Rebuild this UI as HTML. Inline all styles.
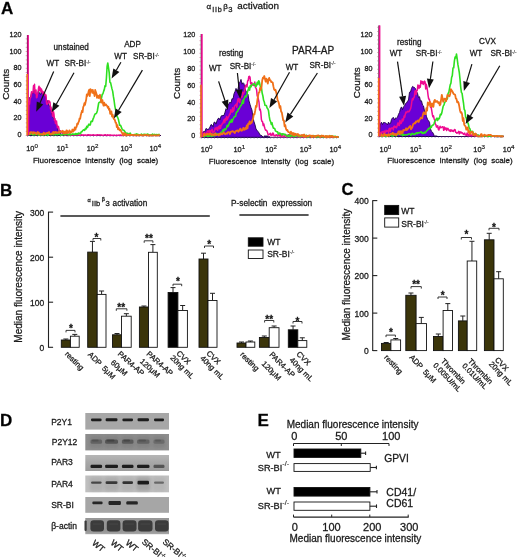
<!DOCTYPE html><html><head><meta charset="utf-8"><style>html,body{margin:0;padding:0;background:#fff;width:520px;height:558px;overflow:hidden}svg{display:block;will-change:transform;filter:blur(0.3px)}</style></head><body><svg width="520" height="558" viewBox="0 0 520 558" font-family='"Liberation Sans", sans-serif'><defs><filter id="b1" x="-20%" y="-50%" width="140%" height="200%"><feGaussianBlur stdDeviation="0.7"/></filter><filter id="b2" x="-20%" y="-50%" width="140%" height="200%"><feGaussianBlur stdDeviation="1.4"/></filter><linearGradient id="gPar3" x1="0" y1="0" x2="0" y2="1"><stop offset="0" stop-color="#b6b6b6"/><stop offset="0.45" stop-color="#a8a8a8"/><stop offset="1" stop-color="#9c9c9c"/></linearGradient><linearGradient id="gAct" x1="0" y1="0" x2="0" y2="1"><stop offset="0" stop-color="#979797"/><stop offset="0.8" stop-color="#939393"/><stop offset="1" stop-color="#a8a8a8"/></linearGradient></defs><style>text{stroke:#1a1a1a;stroke-width:0.28px}</style><rect width="520" height="558" fill="#fff"/><text x="1.0" y="14.0" font-size="17" font-weight="bold" fill="#000" >A</text>
<text font-size="8" fill="#1a1a1a"><tspan x="206.5" y="9.2">α</tspan><tspan x="212.3" y="11.9" font-size="7.2" letter-spacing="0.7">IIb</tspan><tspan x="223.2" y="8.9">β</tspan><tspan x="228.3" y="11.9" font-size="7.6">3</tspan><tspan x="237.3" y="9.1" font-size="9.9">activation</tspan></text>
<line x1="27.5" y1="35" x2="27.5" y2="135.5" stroke="#222" stroke-width="1.2"/>
<line x1="27.5" y1="135.5" x2="161" y2="135.5" stroke="#3a1050" stroke-width="1.0"/>
<polygon points="28.5,135.5 28.5,135.5 29.5,97.6 30.5,97.2 31.5,92.8 32.5,94.0 33.5,90.7 34.5,90.3 35.5,91.8 36.5,96.1 37.5,94.2 38.5,90.4 39.5,93.6 40.5,94.5 41.5,91.1 42.5,94.3 43.5,93.0 44.5,94.2 45.5,95.6 46.5,100.1 47.5,100.7 48.5,104.1 49.5,106.3 50.5,106.0 51.5,112.1 52.5,115.8 53.5,118.3 54.5,119.9 55.5,120.7 56.5,124.0 57.5,127.4 58.5,132.2 59.5,131.7 60.5,133.1 61.5,135.4 62.5,135.0 63.5,135.4 64,135.5" fill="#6a00d6" stroke="#1c0048" stroke-width="0.9"/>
<polyline points="28.5,133.8 29.0,102.5 29.5,104.1 30.0,98.7 30.5,97.6 31.0,96.8 31.5,91.7 32.0,93.1 32.5,92.7 33.0,92.6 33.5,85.7 34.0,86.9 34.5,84.3 35.0,92.8 35.5,93.7 36.0,89.9 36.5,97.8 37.0,97.2 37.5,93.9 38.0,93.0 38.5,88.3 39.0,86.3 39.5,90.3 40.0,87.4 40.5,89.9 41.0,91.7 41.5,89.0 42.0,92.2 42.5,91.2 43.0,94.1 43.5,91.9 44.0,93.8 44.5,93.2 45.0,95.5 45.5,95.1 46.0,95.0 46.5,102.9 47.0,104.3 47.5,103.7 48.0,103.3 48.5,100.7 49.0,100.7 49.5,102.5 50.0,102.0 50.5,108.9 51.0,107.2 51.5,112.2 52.0,110.1 52.5,115.9 53.0,116.5 53.5,111.7 54.0,114.5 54.5,120.5 55.0,118.8 55.5,123.6 56.0,121.4 56.5,121.0 57.0,125.7 57.5,127.8 58.0,126.3 58.5,126.7 59.0,129.2 59.5,132.9 60.0,132.6 60.5,130.7 61.0,132.0 61.5,131.7 62.0,131.8 62.5,134.8 63.0,132.9 63.5,134.5 64.0,134.3 64.5,133.5 65.0,135.3 65.5,133.4 66.0,135.1 66.5,133.5 67.0,134.5 67.5,133.9 68.0,134.1 68.5,135.5 69.0,135.5 69.5,134.4 70.0,135.2 70.5,134.8 71.0,134.9 71.5,135.2 72.0,135.1 72.5,134.8 73.0,135.3 73.5,134.8 74.0,134.9 74.5,135.2 75.0,134.9 75.5,134.9 76.0,134.8 76.5,134.8 77.0,135.1 77.5,134.9 78.0,135.1 78.5,135.0 79.0,135.0 79.5,135.3 80.0,135.0 80.5,135.1 81.0,135.3 81.5,134.8 82.0,134.8 82.5,135.3 83.0,135.2 83.5,134.9 84.0,134.9 84.5,135.2 85.0,135.3 85.5,134.9 86.0,135.3 86.5,135.3 87.0,135.1 87.5,135.0 88.0,134.8 88.5,134.8 89.0,135.3 89.5,134.9 90.0,135.2 90.5,134.9 91.0,135.3 91.5,135.1 92.0,134.9 92.5,134.9 93.0,135.2 93.5,134.8 94.0,134.9 94.5,135.1 95.0,135.3 95.5,135.2 96.0,135.0 96.5,135.3 97.0,134.9 97.5,134.8 98.0,135.0 98.5,135.1 99.0,134.8 99.5,134.9 100.0,135.0 100.5,135.1 101.0,134.9 101.5,135.0 102.0,135.3 102.5,135.4 103.0,135.2 103.5,135.2 104.0,135.2 104.5,134.9 105.0,134.8 105.5,134.8 106.0,135.4 106.5,135.2 107.0,135.4 107.5,134.8 108.0,135.2 108.5,135.1 109.0,135.3 109.5,135.0 110.0,135.4 110.5,134.9 111.0,135.2 111.5,135.3 112.0,135.4 112.5,135.3 113.0,135.3 113.5,135.3 114.0,135.4 114.5,135.1 115.0,135.3 115.5,135.4 116.0,135.4 116.5,135.1 117.0,135.3 117.5,135.4 118.0,135.2 118.5,135.2 119.0,135.1 119.5,135.2 120.0,135.2 120.5,134.9 121.0,135.3 121.5,135.5 122.0,135.4 122.5,135.3 123.0,135.1 123.5,135.3 124.0,135.2 124.5,135.1 125.0,135.4 125.5,134.9 126.0,135.3 126.5,134.9 127.0,135.3 127.5,135.2 128.0,135.0 128.5,135.3 129.0,135.2 129.5,135.3 130.0,135.5 130.5,135.1 131.0,134.9 131.5,135.1 132.0,135.3 132.5,135.0 133.0,135.0 133.5,135.5 134.0,135.3 134.5,135.2 135.0,135.5 135.5,135.1 136.0,135.3 136.5,135.0 137.0,135.2 137.5,135.4 138.0,135.5 138.5,135.5 139.0,135.2 139.5,135.3 140.0,135.1 140.5,135.0 141.0,135.2 141.5,135.4 142.0,135.4 142.5,135.4 143.0,135.5 143.5,135.1 144.0,135.0 144.5,135.2 145.0,135.1 145.5,135.1 146.0,135.2 146.5,135.3 147.0,135.3 147.5,135.1 148.0,135.5 148.5,135.5 149.0,135.2 149.5,135.0 150.0,135.0 150.5,135.5 151.0,135.0 151.5,135.4 152.0,135.3 152.5,135.2 153.0,135.5 153.5,135.0 154.0,135.1 154.5,135.3 155.0,135.0 155.5,135.5 156.0,135.1 156.5,135.1 157.0,135.0 157.5,135.4 158.0,135.3 158.5,135.4 159.0,135.4 159.5,135.5 160.0,135.5" fill="none" stroke="#ee0a90" stroke-width="1.5" stroke-linejoin="round"/>
<polyline points="28.0,134.5 28.7,134.8 29.4,134.8 30.1,133.9 30.8,133.7 31.5,134.3 32.2,134.1 32.9,135.0 33.6,134.8 34.3,134.7 35.0,134.6 35.7,134.8 36.4,133.9 37.1,134.4 37.8,134.0 38.5,135.2 39.2,133.8 39.9,135.0 40.6,133.8 41.3,134.8 42.0,134.2 42.7,134.3 43.4,135.1 44.1,133.7 44.8,133.8 45.5,135.2 46.2,134.5 46.9,133.8 47.6,135.3 48.3,135.2 49.0,133.9 49.7,134.4 50.4,133.9 51.1,134.2 51.8,134.7 52.5,134.0 53.2,134.8 53.9,133.8 54.6,134.0 55.3,135.0 56.0,134.3 56.7,134.4 57.4,134.7 58.1,134.5 58.8,134.3 59.5,133.7 60.2,134.9 60.9,135.3 61.6,135.3 62.3,134.8 63.0,134.3 63.7,134.3 64.4,134.8 65.1,134.8 65.8,133.9 66.5,134.1 67.2,134.3 67.9,134.5 68.6,135.0 69.3,134.5 70.0,133.7 70.7,135.0 71.4,134.3 72.1,134.4 72.8,133.9 73.5,134.2 74.2,134.0 74.9,134.7 75.6,133.5 76.3,134.2 77.0,133.5 77.7,134.4 78.4,133.1 79.1,133.4 79.8,133.4 80.5,133.6 81.2,131.7 81.9,131.8 82.6,130.6 83.3,130.1 84.0,129.8 84.7,130.3 85.4,128.4 86.1,129.0 86.8,126.2 87.5,127.5 88.2,125.4 88.9,124.2 89.6,125.1 90.3,124.9 91.0,121.5 91.7,121.1 92.4,121.4 93.1,118.8 93.8,117.3 94.5,115.2 95.2,113.8 95.9,113.7 96.6,113.0 97.3,111.0 98.0,107.0 98.7,103.0 99.4,102.2 100.1,102.3 100.8,100.7 101.5,98.0 102.2,94.4 102.9,93.9 103.6,91.4 104.3,89.6 105.0,85.7 105.7,86.3 106.4,78.3 107.1,66.5 107.8,63.0 108.5,67.6 109.2,72.6 109.9,82.3 110.6,82.7 111.3,85.9 112.0,88.9 112.7,91.4 113.4,96.4 114.1,100.5 114.8,105.8 115.5,109.3 116.2,110.8 116.9,116.3 117.6,117.2 118.3,119.0 119.0,122.1 119.7,125.2 120.4,125.2 121.1,126.5 121.8,128.4 122.5,129.6 123.2,130.2 123.9,130.2 124.6,131.2 125.3,132.5 126.0,133.0 126.7,133.2 127.4,133.3 128.1,133.5 128.8,134.2 129.5,134.0 130.2,133.1 130.9,134.4 131.6,134.8 132.3,134.7 133.0,134.9 133.7,135.0 134.4,134.5 135.1,135.0 135.8,134.3 136.5,133.9 137.2,134.3 137.9,134.3 138.6,135.3 139.3,134.9 140.0,134.7 140.7,134.8 141.4,134.0 142.1,134.7 142.8,135.0 143.5,134.5 144.2,134.3 144.9,134.6 145.6,134.4 146.3,135.0 147.0,134.2 147.7,134.1 148.4,134.5 149.1,135.1 149.8,135.2 150.5,135.1 151.2,135.5 151.9,134.6 152.6,134.1 153.3,134.8 154.0,134.8 154.7,134.4 155.4,135.2 156.1,134.7 156.8,134.5 157.5,134.7 158.2,135.5 158.9,134.3 159.6,134.8" fill="none" stroke="#2ee020" stroke-width="1.6" stroke-linejoin="round"/>
<polyline points="28.0,132.3 28.6,133.6 29.2,133.6 29.8,134.1 30.4,132.1 31.0,132.3 31.6,132.1 32.2,132.3 32.8,133.9 33.4,132.1 34.0,133.3 34.6,132.4 35.2,132.7 35.8,133.1 36.4,134.4 37.0,133.7 37.6,132.0 38.2,132.8 38.8,132.4 39.4,134.6 40.0,134.4 40.6,134.4 41.2,134.4 41.8,134.2 42.4,134.7 43.0,134.3 43.6,132.7 44.2,134.4 44.8,133.3 45.4,134.1 46.0,133.5 46.6,133.1 47.2,132.9 47.8,133.0 48.4,132.7 49.0,132.0 49.6,134.1 50.2,134.1 50.8,134.6 51.4,133.7 52.0,133.3 52.6,133.8 53.2,131.9 53.8,133.6 54.4,132.8 55.0,132.0 55.6,132.0 56.2,133.0 56.8,132.1 57.4,132.6 58.0,133.0 58.6,132.3 59.2,131.4 59.8,132.5 60.4,131.6 61.0,131.6 61.6,131.4 62.2,131.8 62.8,130.8 63.4,132.7 64.0,133.6 64.6,131.7 65.2,132.7 65.8,133.4 66.4,130.3 67.0,130.6 67.6,132.8 68.2,132.8 68.8,132.1 69.4,130.4 70.0,131.2 70.6,132.5 71.2,132.4 71.8,131.9 72.4,129.5 73.0,131.7 73.6,129.7 74.2,130.5 74.8,127.3 75.4,129.7 76.0,127.3 76.6,126.9 77.2,123.7 77.8,124.3 78.4,122.5 79.0,121.1 79.6,118.3 80.2,118.7 80.8,115.0 81.4,113.1 82.0,110.7 82.6,112.1 83.2,107.1 83.8,105.9 84.4,103.1 85.0,104.9 85.6,102.0 86.2,99.5 86.8,94.3 87.4,96.0 88.0,94.2 88.6,91.4 89.2,89.8 89.8,96.1 90.4,89.2 91.0,89.8 91.6,90.1 92.2,92.9 92.8,89.8 93.4,93.2 94.0,93.1 94.6,96.0 95.2,89.9 95.8,91.9 96.4,93.6 97.0,97.8 97.6,95.5 98.2,96.0 98.8,98.0 99.4,96.0 100.0,94.8 100.6,98.9 101.2,102.6 101.8,102.3 102.4,100.0 103.0,103.7 103.6,105.7 104.2,102.7 104.8,105.4 105.4,104.5 106.0,104.4 106.6,105.6 107.2,106.0 107.8,107.8 108.4,106.8 109.0,109.9 109.6,109.0 110.2,113.8 110.8,113.8 111.4,111.3 112.0,116.5 112.6,114.5 113.2,117.3 113.8,118.9 114.4,119.2 115.0,120.5 115.6,122.7 116.2,122.8 116.8,127.2 117.4,125.2 118.0,129.3 118.6,127.8 119.2,129.1 119.8,130.3 120.4,129.8 121.0,130.8 121.6,132.2 122.2,133.0 122.8,134.9 123.4,135.4 124.0,133.0 124.6,134.5 125.2,133.6 125.8,135.5 126.4,134.4 127.0,135.5 127.6,135.0 128.2,134.8 128.8,134.7 129.4,134.9 130.0,135.3 130.6,134.8 131.2,135.1 131.8,135.0 132.4,135.0 133.0,135.3 133.6,134.9 134.2,135.2 134.8,135.2 135.4,135.4 136.0,135.1 136.6,135.4 137.2,135.1 137.8,135.2 138.4,135.2 139.0,135.4 139.6,135.4 140.2,135.0 140.8,135.0 141.4,135.2 142.0,135.4 142.6,135.3 143.2,135.1 143.8,135.5 144.4,135.1 145.0,135.0 145.6,135.0 146.2,135.0 146.8,135.4 147.4,135.1 148.0,135.4 148.6,135.5 149.2,135.5 149.8,135.5 150.4,135.3 151.0,135.4 151.6,135.5 152.2,135.5 152.8,135.3 153.4,135.5 154.0,135.2 154.6,135.3 155.2,135.5 155.8,135.4 156.4,135.3 157.0,135.5 157.6,135.4 158.2,135.2 158.8,135.2 159.4,135.3 160.0,135.4" fill="none" stroke="#f07018" stroke-width="1.8" stroke-linejoin="round"/>
<line x1="28.1" y1="135.5" x2="28.1" y2="35" stroke="#ee0a90" stroke-width="1.6"/>
<line x1="27.2" y1="135.5" x2="27.2" y2="74" stroke="#f07018" stroke-width="1.6"/>
<line x1="25.7" y1="135.5" x2="27.0" y2="135.5" stroke="#c04070" stroke-width="0.5"/>
<line x1="25.7" y1="131.3" x2="27.0" y2="131.3" stroke="#c04070" stroke-width="0.5"/>
<line x1="25.7" y1="127.1" x2="27.0" y2="127.1" stroke="#c04070" stroke-width="0.5"/>
<line x1="25.7" y1="122.9" x2="27.0" y2="122.9" stroke="#c04070" stroke-width="0.5"/>
<line x1="25.7" y1="118.7" x2="27.0" y2="118.7" stroke="#c04070" stroke-width="0.5"/>
<line x1="25.7" y1="114.5" x2="27.0" y2="114.5" stroke="#c04070" stroke-width="0.5"/>
<line x1="25.7" y1="110.3" x2="27.0" y2="110.3" stroke="#c04070" stroke-width="0.5"/>
<line x1="25.7" y1="106.1" x2="27.0" y2="106.1" stroke="#c04070" stroke-width="0.5"/>
<line x1="25.7" y1="101.9" x2="27.0" y2="101.9" stroke="#c04070" stroke-width="0.5"/>
<line x1="25.7" y1="97.7" x2="27.0" y2="97.7" stroke="#c04070" stroke-width="0.5"/>
<line x1="25.7" y1="93.5" x2="27.0" y2="93.5" stroke="#c04070" stroke-width="0.5"/>
<line x1="25.7" y1="89.3" x2="27.0" y2="89.3" stroke="#c04070" stroke-width="0.5"/>
<line x1="25.7" y1="85.1" x2="27.0" y2="85.1" stroke="#c04070" stroke-width="0.5"/>
<line x1="25.7" y1="80.9" x2="27.0" y2="80.9" stroke="#c04070" stroke-width="0.5"/>
<line x1="25.7" y1="76.7" x2="27.0" y2="76.7" stroke="#c04070" stroke-width="0.5"/>
<line x1="25.7" y1="72.5" x2="27.0" y2="72.5" stroke="#c04070" stroke-width="0.5"/>
<line x1="25.7" y1="68.3" x2="27.0" y2="68.3" stroke="#c04070" stroke-width="0.5"/>
<line x1="25.7" y1="64.1" x2="27.0" y2="64.1" stroke="#c04070" stroke-width="0.5"/>
<line x1="25.7" y1="59.9" x2="27.0" y2="59.9" stroke="#c04070" stroke-width="0.5"/>
<line x1="25.7" y1="55.7" x2="27.0" y2="55.7" stroke="#c04070" stroke-width="0.5"/>
<line x1="25.7" y1="51.5" x2="27.0" y2="51.5" stroke="#c04070" stroke-width="0.5"/>
<line x1="25.7" y1="47.3" x2="27.0" y2="47.3" stroke="#c04070" stroke-width="0.5"/>
<line x1="25.7" y1="43.1" x2="27.0" y2="43.1" stroke="#c04070" stroke-width="0.5"/>
<line x1="25.7" y1="38.9" x2="27.0" y2="38.9" stroke="#c04070" stroke-width="0.5"/>
<line x1="27.5" y1="135.5" x2="27.5" y2="137.0" stroke="#6060a0" stroke-width="0.5"/>
<line x1="30.8" y1="135.5" x2="30.8" y2="137.0" stroke="#6060a0" stroke-width="0.5"/>
<line x1="34.1" y1="135.5" x2="34.1" y2="137.0" stroke="#6060a0" stroke-width="0.5"/>
<line x1="37.4" y1="135.5" x2="37.4" y2="137.0" stroke="#6060a0" stroke-width="0.5"/>
<line x1="40.7" y1="135.5" x2="40.7" y2="137.0" stroke="#6060a0" stroke-width="0.5"/>
<line x1="44.0" y1="135.5" x2="44.0" y2="137.0" stroke="#6060a0" stroke-width="0.5"/>
<line x1="47.3" y1="135.5" x2="47.3" y2="137.0" stroke="#6060a0" stroke-width="0.5"/>
<line x1="50.6" y1="135.5" x2="50.6" y2="137.0" stroke="#6060a0" stroke-width="0.5"/>
<line x1="53.9" y1="135.5" x2="53.9" y2="137.0" stroke="#6060a0" stroke-width="0.5"/>
<line x1="57.2" y1="135.5" x2="57.2" y2="137.0" stroke="#6060a0" stroke-width="0.5"/>
<line x1="60.5" y1="135.5" x2="60.5" y2="137.0" stroke="#6060a0" stroke-width="0.5"/>
<line x1="63.8" y1="135.5" x2="63.8" y2="137.0" stroke="#6060a0" stroke-width="0.5"/>
<line x1="67.1" y1="135.5" x2="67.1" y2="137.0" stroke="#6060a0" stroke-width="0.5"/>
<line x1="70.4" y1="135.5" x2="70.4" y2="137.0" stroke="#6060a0" stroke-width="0.5"/>
<line x1="73.7" y1="135.5" x2="73.7" y2="137.0" stroke="#6060a0" stroke-width="0.5"/>
<line x1="77.0" y1="135.5" x2="77.0" y2="137.0" stroke="#6060a0" stroke-width="0.5"/>
<line x1="80.3" y1="135.5" x2="80.3" y2="137.0" stroke="#6060a0" stroke-width="0.5"/>
<line x1="83.6" y1="135.5" x2="83.6" y2="137.0" stroke="#6060a0" stroke-width="0.5"/>
<line x1="86.9" y1="135.5" x2="86.9" y2="137.0" stroke="#6060a0" stroke-width="0.5"/>
<line x1="90.2" y1="135.5" x2="90.2" y2="137.0" stroke="#6060a0" stroke-width="0.5"/>
<line x1="93.5" y1="135.5" x2="93.5" y2="137.0" stroke="#6060a0" stroke-width="0.5"/>
<line x1="96.8" y1="135.5" x2="96.8" y2="137.0" stroke="#6060a0" stroke-width="0.5"/>
<line x1="100.1" y1="135.5" x2="100.1" y2="137.0" stroke="#6060a0" stroke-width="0.5"/>
<line x1="103.4" y1="135.5" x2="103.4" y2="137.0" stroke="#6060a0" stroke-width="0.5"/>
<line x1="106.7" y1="135.5" x2="106.7" y2="137.0" stroke="#6060a0" stroke-width="0.5"/>
<line x1="110.0" y1="135.5" x2="110.0" y2="137.0" stroke="#6060a0" stroke-width="0.5"/>
<line x1="113.3" y1="135.5" x2="113.3" y2="137.0" stroke="#6060a0" stroke-width="0.5"/>
<line x1="116.6" y1="135.5" x2="116.6" y2="137.0" stroke="#6060a0" stroke-width="0.5"/>
<line x1="119.9" y1="135.5" x2="119.9" y2="137.0" stroke="#6060a0" stroke-width="0.5"/>
<line x1="123.2" y1="135.5" x2="123.2" y2="137.0" stroke="#6060a0" stroke-width="0.5"/>
<line x1="126.5" y1="135.5" x2="126.5" y2="137.0" stroke="#6060a0" stroke-width="0.5"/>
<line x1="129.8" y1="135.5" x2="129.8" y2="137.0" stroke="#6060a0" stroke-width="0.5"/>
<line x1="133.1" y1="135.5" x2="133.1" y2="137.0" stroke="#6060a0" stroke-width="0.5"/>
<line x1="136.4" y1="135.5" x2="136.4" y2="137.0" stroke="#6060a0" stroke-width="0.5"/>
<line x1="139.7" y1="135.5" x2="139.7" y2="137.0" stroke="#6060a0" stroke-width="0.5"/>
<line x1="143.0" y1="135.5" x2="143.0" y2="137.0" stroke="#6060a0" stroke-width="0.5"/>
<line x1="146.3" y1="135.5" x2="146.3" y2="137.0" stroke="#6060a0" stroke-width="0.5"/>
<line x1="149.6" y1="135.5" x2="149.6" y2="137.0" stroke="#6060a0" stroke-width="0.5"/>
<line x1="152.9" y1="135.5" x2="152.9" y2="137.0" stroke="#6060a0" stroke-width="0.5"/>
<line x1="156.2" y1="135.5" x2="156.2" y2="137.0" stroke="#6060a0" stroke-width="0.5"/>
<line x1="159.5" y1="135.5" x2="159.5" y2="137.0" stroke="#6060a0" stroke-width="0.5"/>
<line x1="201.3" y1="34" x2="201.3" y2="137.3" stroke="#222" stroke-width="1.2"/>
<line x1="201.3" y1="137.3" x2="338.5" y2="137.3" stroke="#3a1050" stroke-width="1.0"/>
<polygon points="202,137.3 202.0,137.2 203.0,132.0 204.0,131.6 205.0,131.5 206.0,128.4 207.0,129.2 208.0,129.6 209.0,128.8 210.0,127.0 211.0,124.6 212.0,125.0 213.0,126.8 214.0,122.3 215.0,122.2 216.0,124.1 217.0,120.8 218.0,118.6 219.0,118.1 220.0,120.0 221.0,116.2 222.0,115.6 223.0,115.7 224.0,115.3 225.0,112.3 226.0,108.7 227.0,109.7 228.0,105.0 229.0,103.6 230.0,102.1 231.0,103.2 232.0,98.6 233.0,99.2 234.0,93.8 235.0,91.6 236.0,88.4 237.0,90.3 238.0,89.3 239.0,83.2 240.0,82.1 241.0,79.4 242.0,84.2 243.0,82.7 244.0,83.7 245.0,88.9 246.0,91.1 247.0,92.7 248.0,94.3 249.0,100.9 250.0,104.3 251.0,107.6 252.0,110.2 253.0,118.2 254.0,121.7 255.0,124.8 256.0,129.0 257.0,130.3 258.0,131.5 259.0,132.9 260.0,135.0 261.0,135.4 262.0,135.8 263.0,137.3 264.0,137.1 265.0,135.5 266.0,137.3 267.0,135.5 268.0,137.1 269.0,136.8 270.0,137.1 270,137.3" fill="#6a00d6" stroke="#1c0048" stroke-width="0.9"/>
<polyline points="202.0,132.9 202.6,134.5 203.2,134.1 203.8,133.5 204.4,132.4 205.0,134.3 205.6,134.2 206.2,133.0 206.8,132.8 207.4,131.7 208.0,130.7 208.6,131.9 209.2,132.5 209.8,130.5 210.4,132.9 211.0,130.6 211.6,130.4 212.2,129.4 212.8,132.8 213.4,131.6 214.0,131.9 214.6,130.6 215.2,128.0 215.8,128.8 216.4,129.1 217.0,127.2 217.6,130.3 218.2,127.5 218.8,126.2 219.4,128.7 220.0,125.3 220.6,128.2 221.2,125.3 221.8,125.0 222.4,123.2 223.0,123.2 223.6,121.0 224.2,119.4 224.8,122.7 225.4,118.5 226.0,120.4 226.6,116.5 227.2,119.7 227.8,118.4 228.4,116.7 229.0,116.0 229.6,114.1 230.2,114.2 230.8,109.8 231.4,111.0 232.0,112.3 232.6,107.7 233.2,111.4 233.8,110.4 234.4,106.6 235.0,105.5 235.6,105.2 236.2,104.0 236.8,107.2 237.4,102.4 238.0,99.0 238.6,98.5 239.2,101.8 239.8,102.7 240.4,98.3 241.0,97.3 241.6,96.7 242.2,97.0 242.8,92.3 243.4,94.0 244.0,92.5 244.6,91.4 245.2,86.8 245.8,85.3 246.4,84.9 247.0,87.0 247.6,81.0 248.2,80.7 248.8,76.7 249.4,76.3 250.0,77.1 250.6,83.4 251.2,84.3 251.8,82.7 252.4,84.9 253.0,84.4 253.6,85.4 254.2,85.3 254.8,82.0 255.4,87.3 256.0,88.2 256.6,89.8 257.2,95.9 257.8,96.6 258.4,99.4 259.0,102.2 259.6,109.9 260.2,109.1 260.8,112.2 261.4,119.6 262.0,121.4 262.6,121.9 263.2,125.6 263.8,123.9 264.4,126.8 265.0,128.8 265.6,130.3 266.2,130.2 266.8,130.7 267.4,132.1 268.0,134.4 268.6,134.9 269.2,134.4 269.8,133.8 270.4,133.3 271.0,135.6 271.6,134.3 272.2,135.1 272.8,132.9 273.4,133.6 274.0,135.7 274.6,135.6 275.2,136.0 275.8,135.2 276.4,134.7 277.0,135.3 277.6,136.2 278.2,134.7 278.8,135.4 279.4,134.8 280.0,136.3 280.6,134.1 281.2,136.1 281.8,136.9 282.4,134.3 283.0,135.9 283.6,136.1 284.2,136.7 284.8,136.0 285.4,135.1 286.0,135.5 286.6,137.1 287.2,137.0 287.8,134.9 288.4,134.8 289.0,134.8 289.6,134.7 290.2,135.9 290.8,135.1 291.4,137.1 292.0,136.5 292.6,135.1 293.2,136.3 293.8,135.7 294.4,136.2 295.0,135.5 295.6,135.4 296.2,135.5 296.8,136.0 297.4,136.9 298.0,136.5 298.6,135.3 299.2,137.0 299.8,137.3 300.4,137.2 301.0,137.2 301.6,135.3 302.2,136.4 302.8,135.5 303.4,137.2 304.0,135.7 304.6,137.1 305.2,136.0 305.8,137.1 306.4,136.1 307.0,135.5 307.6,136.3 308.2,136.1 308.8,137.3 309.4,136.1 310.0,136.6 310.6,136.8 311.2,137.3 311.8,135.7 312.4,136.9 313.0,136.7 313.6,137.2 314.2,137.3 314.8,136.2 315.4,137.2 316.0,136.8 316.6,136.9 317.2,135.7 317.8,137.3 318.4,137.3 319.0,136.4 319.6,136.3 320.2,137.3 320.8,135.8 321.4,135.8 322.0,135.8 322.6,137.3 323.2,137.3 323.8,136.8 324.4,136.9 325.0,136.5 325.6,136.9 326.2,136.8 326.8,136.9 327.4,136.8 328.0,136.8 328.6,136.7 329.2,136.6 329.8,136.8 330.4,136.7 331.0,137.0 331.6,137.1 332.2,137.0 332.8,136.9 333.4,136.8 334.0,136.9 334.6,136.9 335.2,137.0 335.8,137.2 336.4,136.7 337.0,137.0 337.6,137.0 338.2,137.1 338.8,137.2" fill="none" stroke="#ee0a90" stroke-width="1.5" stroke-linejoin="round"/>
<polyline points="202.0,136.9 202.7,135.2 203.4,135.0 204.1,136.8 204.8,135.2 205.5,135.0 206.2,136.0 206.9,135.3 207.6,136.4 208.3,135.0 209.0,136.4 209.7,135.0 210.4,135.6 211.1,136.2 211.8,135.6 212.5,136.1 213.2,135.6 213.9,134.1 214.6,135.8 215.3,135.1 216.0,134.2 216.7,133.6 217.4,134.9 218.1,134.0 218.8,134.5 219.5,133.9 220.2,134.0 220.9,132.5 221.6,132.2 222.3,131.5 223.0,129.9 223.7,131.3 224.4,128.9 225.1,129.7 225.8,129.4 226.5,127.7 227.2,125.2 227.9,126.6 228.6,125.2 229.3,122.8 230.0,121.4 230.7,122.3 231.4,119.6 232.1,122.0 232.8,119.5 233.5,118.3 234.2,116.7 234.9,116.5 235.6,116.4 236.3,112.7 237.0,111.7 237.7,111.4 238.4,108.9 239.1,108.9 239.8,107.4 240.5,105.7 241.2,105.5 241.9,103.6 242.6,100.2 243.3,103.3 244.0,98.8 244.7,97.6 245.4,95.9 246.1,96.9 246.8,95.4 247.5,91.6 248.2,89.9 248.9,87.2 249.6,90.1 250.3,85.6 251.0,86.9 251.7,85.3 252.4,84.6 253.1,84.3 253.8,83.9 254.5,83.4 255.2,86.0 255.9,86.6 256.6,85.1 257.3,82.3 258.0,84.4 258.7,80.7 259.4,82.1 260.1,85.5 260.8,87.6 261.5,88.1 262.2,93.3 262.9,96.0 263.6,100.3 264.3,102.0 265.0,105.3 265.7,105.5 266.4,105.6 267.1,108.0 267.8,108.8 268.5,110.6 269.2,116.2 269.9,120.1 270.6,121.6 271.3,124.4 272.0,122.8 272.7,126.1 273.4,128.2 274.1,128.3 274.8,128.7 275.5,131.1 276.2,131.3 276.9,131.8 277.6,131.7 278.3,134.3 279.0,133.1 279.7,133.0 280.4,133.4 281.1,133.7 281.8,135.2 282.5,133.8 283.2,134.1 283.9,133.9 284.6,134.9 285.3,134.4 286.0,134.9 286.7,135.8 287.4,136.4 288.1,136.3 288.8,134.8 289.5,135.7 290.2,136.7 290.9,135.1 291.6,135.5 292.3,136.0 293.0,135.8 293.7,136.5 294.4,136.5 295.1,136.0 295.8,135.6 296.5,135.6 297.2,135.7 297.9,135.3 298.6,136.5 299.3,135.5 300.0,136.9 300.7,136.4 301.4,135.4 302.1,136.2 302.8,136.4 303.5,135.4 304.2,136.2 304.9,135.4 305.6,136.7 306.3,135.3 307.0,136.5 307.7,137.2 308.4,136.9 309.1,135.8 309.8,136.4 310.5,135.7 311.2,136.1 311.9,137.0 312.6,136.9 313.3,135.5 314.0,136.2 314.7,136.7 315.4,135.8 316.1,137.0 316.8,137.1 317.5,136.5 318.2,136.2 318.9,137.1 319.6,136.5 320.3,135.9 321.0,136.1 321.7,135.9 322.4,137.1 323.1,136.6 323.8,136.9 324.5,137.1 325.2,137.3 325.9,136.0 326.6,136.4 327.3,137.3 328.0,137.1 328.7,136.4 329.4,136.9 330.1,136.1 330.8,136.1 331.5,135.9 332.2,136.5 332.9,136.2 333.6,136.7 334.3,137.3 335.0,136.1 335.7,136.8 336.4,137.3 337.1,136.9 337.8,136.8 338.5,137.2" fill="none" stroke="#2ee020" stroke-width="1.6" stroke-linejoin="round"/>
<polyline points="202.0,136.2 202.7,136.2 203.4,136.0 204.1,133.8 204.8,135.1 205.5,134.7 206.2,134.9 206.9,133.8 207.6,133.9 208.3,134.6 209.0,133.9 209.7,134.6 210.4,133.3 211.1,133.5 211.8,135.2 212.5,134.4 213.2,134.6 213.9,135.2 214.6,134.1 215.3,133.2 216.0,135.2 216.7,134.6 217.4,134.7 218.1,134.5 218.8,135.5 219.5,133.6 220.2,134.8 220.9,133.5 221.6,134.1 222.3,134.3 223.0,133.1 223.7,132.4 224.4,133.5 225.1,134.2 225.8,133.7 226.5,133.2 227.2,133.7 227.9,132.2 228.6,132.1 229.3,132.5 230.0,134.0 230.7,131.9 231.4,131.6 232.1,131.5 232.8,131.1 233.5,131.7 234.2,132.4 234.9,133.0 235.6,131.2 236.3,131.1 237.0,130.6 237.7,130.4 238.4,131.8 239.1,130.7 239.8,129.4 240.5,128.6 241.2,130.8 241.9,130.2 242.6,130.4 243.3,127.8 244.0,128.6 244.7,129.7 245.4,128.0 246.1,129.0 246.8,125.5 247.5,128.4 248.2,123.7 248.9,124.1 249.6,121.4 250.3,123.9 251.0,122.3 251.7,122.7 252.4,120.1 253.1,118.6 253.8,114.2 254.5,114.3 255.2,110.7 255.9,105.9 256.6,106.8 257.3,100.3 258.0,96.3 258.7,92.7 259.4,92.4 260.1,87.9 260.8,89.8 261.5,87.3 262.2,80.5 262.9,77.7 263.6,78.3 264.3,76.0 265.0,79.1 265.7,81.7 266.4,78.7 267.1,80.4 267.8,83.6 268.5,79.6 269.2,77.9 269.9,80.3 270.6,80.4 271.3,82.2 272.0,82.2 272.7,82.5 273.4,86.4 274.1,89.4 274.8,90.3 275.5,89.8 276.2,92.4 276.9,95.6 277.6,100.3 278.3,101.4 279.0,103.8 279.7,107.9 280.4,106.2 281.1,111.6 281.8,112.4 282.5,116.3 283.2,120.4 283.9,120.4 284.6,126.4 285.3,125.1 286.0,128.9 286.7,130.4 287.4,130.0 288.1,131.8 288.8,132.2 289.5,132.5 290.2,133.6 290.9,131.7 291.6,133.1 292.3,134.6 293.0,132.9 293.7,135.3 294.4,133.5 295.1,135.0 295.8,133.8 296.5,134.7 297.2,134.8 297.9,133.9 298.6,135.7 299.3,135.1 300.0,135.7 300.7,135.4 301.4,135.5 302.1,135.5 302.8,134.9 303.5,136.5 304.2,134.5 304.9,136.6 305.6,136.6 306.3,135.7 307.0,136.5 307.7,136.3 308.4,136.1 309.1,135.4 309.8,135.5 310.5,135.6 311.2,135.6 311.9,137.2 312.6,135.7 313.3,135.8 314.0,135.9 314.7,136.9 315.4,136.1 316.1,136.3 316.8,135.7 317.5,135.7 318.2,135.3 318.9,135.6 319.6,135.8 320.3,137.2 321.0,136.4 321.7,135.5 322.4,136.3 323.1,135.6 323.8,136.6 324.5,136.4 325.2,137.3 325.9,136.0 326.6,137.3 327.3,136.0 328.0,137.3 328.7,136.9 329.4,135.7 330.1,137.3 330.8,136.2 331.5,136.4 332.2,136.0 332.9,137.3 333.6,136.6 334.3,137.0 335.0,136.8 335.7,137.0 336.4,136.8 337.1,136.7 337.8,137.2 338.5,137.1" fill="none" stroke="#f07018" stroke-width="1.8" stroke-linejoin="round"/>
<line x1="201.9" y1="137.3" x2="201.9" y2="34" stroke="#ee0a90" stroke-width="1.6"/>
<line x1="201.0" y1="137.3" x2="201.0" y2="84.7" stroke="#f07018" stroke-width="1.6"/>
<line x1="199.5" y1="137.3" x2="200.8" y2="137.3" stroke="#c04070" stroke-width="0.5"/>
<line x1="199.5" y1="133.1" x2="200.8" y2="133.1" stroke="#c04070" stroke-width="0.5"/>
<line x1="199.5" y1="128.9" x2="200.8" y2="128.9" stroke="#c04070" stroke-width="0.5"/>
<line x1="199.5" y1="124.7" x2="200.8" y2="124.7" stroke="#c04070" stroke-width="0.5"/>
<line x1="199.5" y1="120.5" x2="200.8" y2="120.5" stroke="#c04070" stroke-width="0.5"/>
<line x1="199.5" y1="116.3" x2="200.8" y2="116.3" stroke="#c04070" stroke-width="0.5"/>
<line x1="199.5" y1="112.1" x2="200.8" y2="112.1" stroke="#c04070" stroke-width="0.5"/>
<line x1="199.5" y1="107.9" x2="200.8" y2="107.9" stroke="#c04070" stroke-width="0.5"/>
<line x1="199.5" y1="103.7" x2="200.8" y2="103.7" stroke="#c04070" stroke-width="0.5"/>
<line x1="199.5" y1="99.5" x2="200.8" y2="99.5" stroke="#c04070" stroke-width="0.5"/>
<line x1="199.5" y1="95.3" x2="200.8" y2="95.3" stroke="#c04070" stroke-width="0.5"/>
<line x1="199.5" y1="91.1" x2="200.8" y2="91.1" stroke="#c04070" stroke-width="0.5"/>
<line x1="199.5" y1="86.9" x2="200.8" y2="86.9" stroke="#c04070" stroke-width="0.5"/>
<line x1="199.5" y1="82.7" x2="200.8" y2="82.7" stroke="#c04070" stroke-width="0.5"/>
<line x1="199.5" y1="78.5" x2="200.8" y2="78.5" stroke="#c04070" stroke-width="0.5"/>
<line x1="199.5" y1="74.3" x2="200.8" y2="74.3" stroke="#c04070" stroke-width="0.5"/>
<line x1="199.5" y1="70.1" x2="200.8" y2="70.1" stroke="#c04070" stroke-width="0.5"/>
<line x1="199.5" y1="65.9" x2="200.8" y2="65.9" stroke="#c04070" stroke-width="0.5"/>
<line x1="199.5" y1="61.7" x2="200.8" y2="61.7" stroke="#c04070" stroke-width="0.5"/>
<line x1="199.5" y1="57.5" x2="200.8" y2="57.5" stroke="#c04070" stroke-width="0.5"/>
<line x1="199.5" y1="53.3" x2="200.8" y2="53.3" stroke="#c04070" stroke-width="0.5"/>
<line x1="199.5" y1="49.1" x2="200.8" y2="49.1" stroke="#c04070" stroke-width="0.5"/>
<line x1="199.5" y1="44.9" x2="200.8" y2="44.9" stroke="#c04070" stroke-width="0.5"/>
<line x1="199.5" y1="40.7" x2="200.8" y2="40.7" stroke="#c04070" stroke-width="0.5"/>
<line x1="199.5" y1="36.5" x2="200.8" y2="36.5" stroke="#c04070" stroke-width="0.5"/>
<line x1="201.3" y1="137.3" x2="201.3" y2="138.8" stroke="#6060a0" stroke-width="0.5"/>
<line x1="204.6" y1="137.3" x2="204.6" y2="138.8" stroke="#6060a0" stroke-width="0.5"/>
<line x1="207.9" y1="137.3" x2="207.9" y2="138.8" stroke="#6060a0" stroke-width="0.5"/>
<line x1="211.2" y1="137.3" x2="211.2" y2="138.8" stroke="#6060a0" stroke-width="0.5"/>
<line x1="214.5" y1="137.3" x2="214.5" y2="138.8" stroke="#6060a0" stroke-width="0.5"/>
<line x1="217.8" y1="137.3" x2="217.8" y2="138.8" stroke="#6060a0" stroke-width="0.5"/>
<line x1="221.1" y1="137.3" x2="221.1" y2="138.8" stroke="#6060a0" stroke-width="0.5"/>
<line x1="224.4" y1="137.3" x2="224.4" y2="138.8" stroke="#6060a0" stroke-width="0.5"/>
<line x1="227.7" y1="137.3" x2="227.7" y2="138.8" stroke="#6060a0" stroke-width="0.5"/>
<line x1="231.0" y1="137.3" x2="231.0" y2="138.8" stroke="#6060a0" stroke-width="0.5"/>
<line x1="234.3" y1="137.3" x2="234.3" y2="138.8" stroke="#6060a0" stroke-width="0.5"/>
<line x1="237.6" y1="137.3" x2="237.6" y2="138.8" stroke="#6060a0" stroke-width="0.5"/>
<line x1="240.9" y1="137.3" x2="240.9" y2="138.8" stroke="#6060a0" stroke-width="0.5"/>
<line x1="244.2" y1="137.3" x2="244.2" y2="138.8" stroke="#6060a0" stroke-width="0.5"/>
<line x1="247.5" y1="137.3" x2="247.5" y2="138.8" stroke="#6060a0" stroke-width="0.5"/>
<line x1="250.8" y1="137.3" x2="250.8" y2="138.8" stroke="#6060a0" stroke-width="0.5"/>
<line x1="254.1" y1="137.3" x2="254.1" y2="138.8" stroke="#6060a0" stroke-width="0.5"/>
<line x1="257.4" y1="137.3" x2="257.4" y2="138.8" stroke="#6060a0" stroke-width="0.5"/>
<line x1="260.7" y1="137.3" x2="260.7" y2="138.8" stroke="#6060a0" stroke-width="0.5"/>
<line x1="264.0" y1="137.3" x2="264.0" y2="138.8" stroke="#6060a0" stroke-width="0.5"/>
<line x1="267.3" y1="137.3" x2="267.3" y2="138.8" stroke="#6060a0" stroke-width="0.5"/>
<line x1="270.6" y1="137.3" x2="270.6" y2="138.8" stroke="#6060a0" stroke-width="0.5"/>
<line x1="273.9" y1="137.3" x2="273.9" y2="138.8" stroke="#6060a0" stroke-width="0.5"/>
<line x1="277.2" y1="137.3" x2="277.2" y2="138.8" stroke="#6060a0" stroke-width="0.5"/>
<line x1="280.5" y1="137.3" x2="280.5" y2="138.8" stroke="#6060a0" stroke-width="0.5"/>
<line x1="283.8" y1="137.3" x2="283.8" y2="138.8" stroke="#6060a0" stroke-width="0.5"/>
<line x1="287.1" y1="137.3" x2="287.1" y2="138.8" stroke="#6060a0" stroke-width="0.5"/>
<line x1="290.4" y1="137.3" x2="290.4" y2="138.8" stroke="#6060a0" stroke-width="0.5"/>
<line x1="293.7" y1="137.3" x2="293.7" y2="138.8" stroke="#6060a0" stroke-width="0.5"/>
<line x1="297.0" y1="137.3" x2="297.0" y2="138.8" stroke="#6060a0" stroke-width="0.5"/>
<line x1="300.3" y1="137.3" x2="300.3" y2="138.8" stroke="#6060a0" stroke-width="0.5"/>
<line x1="303.6" y1="137.3" x2="303.6" y2="138.8" stroke="#6060a0" stroke-width="0.5"/>
<line x1="306.9" y1="137.3" x2="306.9" y2="138.8" stroke="#6060a0" stroke-width="0.5"/>
<line x1="310.2" y1="137.3" x2="310.2" y2="138.8" stroke="#6060a0" stroke-width="0.5"/>
<line x1="313.5" y1="137.3" x2="313.5" y2="138.8" stroke="#6060a0" stroke-width="0.5"/>
<line x1="316.8" y1="137.3" x2="316.8" y2="138.8" stroke="#6060a0" stroke-width="0.5"/>
<line x1="320.1" y1="137.3" x2="320.1" y2="138.8" stroke="#6060a0" stroke-width="0.5"/>
<line x1="323.4" y1="137.3" x2="323.4" y2="138.8" stroke="#6060a0" stroke-width="0.5"/>
<line x1="326.7" y1="137.3" x2="326.7" y2="138.8" stroke="#6060a0" stroke-width="0.5"/>
<line x1="330.0" y1="137.3" x2="330.0" y2="138.8" stroke="#6060a0" stroke-width="0.5"/>
<line x1="333.3" y1="137.3" x2="333.3" y2="138.8" stroke="#6060a0" stroke-width="0.5"/>
<line x1="336.6" y1="137.3" x2="336.6" y2="138.8" stroke="#6060a0" stroke-width="0.5"/>
<line x1="379" y1="25.4" x2="379" y2="136.5" stroke="#222" stroke-width="1.2"/>
<line x1="379" y1="136.5" x2="504" y2="136.5" stroke="#3a1050" stroke-width="1.0"/>
<polygon points="379.5,136.5 379.5,136.5 380.5,123.7 381.5,122.2 382.5,124.6 383.5,122.5 384.5,122.5 385.5,122.9 386.5,123.6 387.5,124.8 388.5,122.1 389.5,124.0 390.5,123.5 391.5,119.4 392.5,117.9 393.5,117.5 394.5,120.0 395.5,117.9 396.5,118.2 397.5,117.2 398.5,114.3 399.5,112.4 400.5,108.5 401.5,106.9 402.5,109.6 403.5,106.9 404.5,105.9 405.5,103.6 406.5,103.0 407.5,101.3 408.5,100.0 409.5,92.2 410.5,92.0 411.5,88.4 412.5,86.4 413.5,87.1 414.5,87.5 415.5,88.7 416.5,91.5 417.5,93.3 418.5,97.5 419.5,96.7 420.5,101.2 421.5,100.8 422.5,105.0 423.5,105.9 424.5,110.9 425.5,112.6 426.5,116.7 427.5,119.3 428.5,120.7 429.5,122.2 430.5,129.0 431.5,131.4 432.5,132.2 433.5,134.0 434.5,136.4 435.5,135.9 436.5,136.0 437.5,136.4 438.5,136.5 439.5,136.5 440,136.5" fill="#6a00d6" stroke="#1c0048" stroke-width="0.9"/>
<polyline points="379.5,132.5 380.1,132.6 380.7,133.2 381.3,133.9 381.9,131.9 382.5,131.6 383.1,131.8 383.7,133.4 384.3,131.0 384.9,132.9 385.5,132.4 386.1,130.3 386.7,131.4 387.3,130.9 387.9,130.5 388.5,132.5 389.1,128.8 389.7,128.3 390.3,131.5 390.9,129.1 391.5,127.9 392.1,128.1 392.7,127.8 393.3,129.9 393.9,126.4 394.5,126.1 395.1,127.3 395.7,126.6 396.3,127.9 396.9,126.9 397.5,124.2 398.1,122.9 398.7,125.4 399.3,125.6 399.9,120.5 400.5,123.4 401.1,123.5 401.7,121.9 402.3,118.9 402.9,121.0 403.5,119.7 404.1,115.9 404.7,117.3 405.3,114.1 405.9,112.1 406.5,112.8 407.1,111.8 407.7,111.2 408.3,111.7 408.9,111.7 409.5,111.0 410.1,109.7 410.7,108.4 411.3,105.6 411.9,101.0 412.5,98.5 413.1,99.9 413.7,97.8 414.3,97.1 414.9,91.4 415.5,90.5 416.1,94.4 416.7,90.9 417.3,90.3 417.9,84.9 418.5,85.9 419.1,88.4 419.7,85.6 420.3,87.1 420.9,80.8 421.5,81.8 422.1,83.5 422.7,81.5 423.3,84.4 423.9,83.3 424.5,81.1 425.1,81.9 425.7,89.0 426.3,84.3 426.9,87.2 427.5,90.6 428.1,95.6 428.7,99.0 429.3,99.2 429.9,102.4 430.5,107.2 431.1,107.0 431.7,110.4 432.3,114.2 432.9,116.7 433.5,115.9 434.1,118.7 434.7,120.1 435.3,124.0 435.9,124.8 436.5,127.1 437.1,127.1 437.7,125.8 438.3,129.0 438.9,130.0 439.5,127.5 440.1,126.2 440.7,127.8 441.3,127.5 441.9,127.2 442.5,126.7 443.1,127.2 443.7,130.3 444.3,127.1 444.9,129.4 445.5,127.9 446.1,128.0 446.7,130.6 447.3,128.7 447.9,128.3 448.5,129.5 449.1,130.6 449.7,130.0 450.3,131.4 450.9,129.8 451.5,130.4 452.1,131.2 452.7,130.4 453.3,131.5 453.9,130.7 454.5,129.5 455.1,129.7 455.7,132.3 456.3,132.4 456.9,133.3 457.5,132.7 458.1,132.5 458.7,131.3 459.3,133.9 459.9,131.7 460.5,132.9 461.1,132.1 461.7,133.0 462.3,132.8 462.9,133.3 463.5,134.4 464.1,133.9 464.7,133.1 465.3,134.9 465.9,134.9 466.5,135.3 467.1,133.0 467.7,134.9 468.3,135.8 468.9,134.1 469.5,134.1 470.1,135.9 470.7,134.7 471.3,134.9 471.9,136.0 472.5,134.9 473.1,134.5 473.7,134.6 474.3,135.0 474.9,136.0 475.5,135.2 476.1,136.3 476.7,134.6 477.3,135.1 477.9,136.1 478.5,135.8 479.1,135.9 479.7,136.5 480.3,135.9 480.9,135.8 481.5,135.8 482.1,136.0 482.7,135.9 483.3,136.1 483.9,135.8 484.5,135.8 485.1,136.0 485.7,136.3 486.3,136.0 486.9,136.4 487.5,136.2 488.1,136.1 488.7,136.3 489.3,136.0 489.9,136.3 490.5,136.4 491.1,136.3 491.7,136.1 492.3,136.0 492.9,136.3 493.5,136.1 494.1,136.2 494.7,136.3 495.3,136.5 495.9,136.4 496.5,136.4 497.1,136.5 497.7,136.3 498.3,136.3 498.9,136.5 499.5,136.4 500.1,136.3 500.7,136.4 501.3,136.5 501.9,136.3 502.5,136.5 503.1,136.2 503.7,136.5" fill="none" stroke="#ee0a90" stroke-width="1.5" stroke-linejoin="round"/>
<polyline points="379.5,135.7 380.2,135.5 380.9,135.6 381.6,136.5 382.3,135.9 383.0,136.2 383.7,135.2 384.4,135.8 385.1,136.3 385.8,135.7 386.5,136.4 387.2,136.2 387.9,135.4 388.6,134.8 389.3,135.9 390.0,134.9 390.7,134.7 391.4,135.8 392.1,136.0 392.8,135.9 393.5,136.1 394.2,134.8 394.9,134.5 395.6,134.6 396.3,136.0 397.0,134.5 397.7,134.5 398.4,134.3 399.1,134.3 399.8,134.2 400.5,134.7 401.2,134.3 401.9,134.5 402.6,135.6 403.3,134.2 404.0,135.3 404.7,135.1 405.4,134.8 406.1,134.7 406.8,135.0 407.5,134.7 408.2,134.0 408.9,134.1 409.6,133.9 410.3,134.1 411.0,135.2 411.7,134.1 412.4,133.4 413.1,134.1 413.8,134.7 414.5,133.9 415.2,134.4 415.9,133.0 416.6,132.8 417.3,133.9 418.0,132.5 418.7,132.9 419.4,132.9 420.1,132.3 420.8,131.9 421.5,131.7 422.2,133.5 422.9,132.8 423.6,133.3 424.3,132.1 425.0,133.0 425.7,132.3 426.4,131.2 427.1,130.4 427.8,129.8 428.5,128.5 429.2,128.3 429.9,128.7 430.6,126.5 431.3,127.4 432.0,125.6 432.7,125.1 433.4,124.9 434.1,123.5 434.8,121.1 435.5,120.6 436.2,119.0 436.9,118.2 437.6,120.4 438.3,118.4 439.0,118.8 439.7,117.3 440.4,114.3 441.1,114.8 441.8,112.9 442.5,109.3 443.2,106.1 443.9,105.1 444.6,102.7 445.3,101.6 446.0,98.6 446.7,99.4 447.4,98.7 448.1,93.3 448.8,92.6 449.5,88.6 450.2,84.9 450.9,83.3 451.6,77.5 452.3,75.6 453.0,68.0 453.7,67.8 454.4,60.8 455.1,57.0 455.8,57.8 456.5,54.0 457.2,58.9 457.9,64.4 458.6,68.3 459.3,72.7 460.0,79.2 460.7,87.1 461.4,92.4 462.1,93.4 462.8,98.6 463.5,103.0 464.2,109.4 464.9,110.5 465.6,116.8 466.3,118.0 467.0,122.2 467.7,122.5 468.4,124.1 469.1,127.9 469.8,128.5 470.5,130.8 471.2,131.4 471.9,132.0 472.6,131.3 473.3,133.3 474.0,134.9 474.7,134.2 475.4,133.7 476.1,134.1 476.8,135.8 477.5,136.0 478.2,135.0 478.9,135.3 479.6,136.2 480.3,136.0 481.0,135.8 481.7,136.3 482.4,136.1 483.1,136.0 483.8,135.8 484.5,136.1 485.2,136.3 485.9,135.9 486.6,135.9 487.3,136.3 488.0,136.4 488.7,136.1 489.4,136.2 490.1,136.3 490.8,136.2 491.5,136.0 492.2,136.1 492.9,136.1 493.6,136.1 494.3,136.1 495.0,136.2 495.7,136.2 496.4,136.5 497.1,136.2 497.8,136.5 498.5,136.5 499.2,136.3 499.9,136.2 500.6,136.5 501.3,136.4 502.0,136.5 502.7,136.2 503.4,136.5" fill="none" stroke="#2ee020" stroke-width="1.6" stroke-linejoin="round"/>
<polyline points="379.5,135.2 380.2,135.4 380.9,135.9 381.6,134.2 382.3,135.3 383.0,136.0 383.7,136.0 384.4,133.7 385.1,135.1 385.8,135.0 386.5,134.6 387.2,136.0 387.9,134.5 388.6,134.2 389.3,135.8 390.0,134.8 390.7,133.6 391.4,133.6 392.1,134.2 392.8,132.7 393.5,134.5 394.2,134.8 394.9,133.8 395.6,135.0 396.3,135.1 397.0,133.6 397.7,133.8 398.4,131.6 399.1,131.2 399.8,134.3 400.5,131.5 401.2,131.1 401.9,133.4 402.6,132.7 403.3,130.0 404.0,130.6 404.7,130.1 405.4,129.8 406.1,128.3 406.8,130.1 407.5,128.7 408.2,128.7 408.9,127.4 409.6,126.6 410.3,125.9 411.0,129.3 411.7,128.3 412.4,126.9 413.1,124.3 413.8,123.8 414.5,123.0 415.2,123.4 415.9,121.5 416.6,122.0 417.3,121.0 418.0,120.4 418.7,122.0 419.4,120.0 420.1,119.2 420.8,117.7 421.5,117.9 422.2,118.4 422.9,114.7 423.6,112.4 424.3,114.0 425.0,112.5 425.7,114.1 426.4,108.1 427.1,110.6 427.8,102.4 428.5,104.8 429.2,103.4 429.9,101.8 430.6,106.5 431.3,106.1 432.0,103.3 432.7,106.6 433.4,106.8 434.1,101.2 434.8,99.9 435.5,101.9 436.2,101.9 436.9,100.9 437.6,101.6 438.3,103.1 439.0,102.3 439.7,105.3 440.4,104.5 441.1,99.7 441.8,94.8 442.5,97.9 443.2,101.8 443.9,99.3 444.6,98.6 445.3,99.0 446.0,101.2 446.7,98.9 447.4,94.8 448.1,95.8 448.8,95.8 449.5,96.3 450.2,94.0 450.9,89.2 451.6,90.4 452.3,91.1 453.0,92.8 453.7,94.0 454.4,94.3 455.1,94.7 455.8,98.4 456.5,98.9 457.2,102.4 457.9,101.7 458.6,103.0 459.3,106.4 460.0,110.5 460.7,112.6 461.4,112.3 462.1,114.4 462.8,121.0 463.5,118.1 464.2,124.7 464.9,125.6 465.6,126.4 466.3,129.7 467.0,129.3 467.7,127.4 468.4,132.3 469.1,131.0 469.8,133.8 470.5,133.9 471.2,131.8 471.9,131.9 472.6,132.2 473.3,135.1 474.0,135.4 474.7,133.8 475.4,133.5 476.1,134.4 476.8,135.9 477.5,135.8 478.2,136.3 478.9,136.5 479.6,136.2 480.3,136.5 481.0,134.2 481.7,134.2 482.4,136.5 483.1,136.0 483.8,135.2 484.5,134.7 485.2,135.3 485.9,135.3 486.6,135.8 487.3,135.7 488.0,135.0 488.7,134.8 489.4,135.1 490.1,135.0 490.8,134.9 491.5,135.8 492.2,135.8 492.9,136.2 493.6,136.1 494.3,136.1 495.0,136.2 495.7,136.0 496.4,135.9 497.1,136.0 497.8,136.1 498.5,136.2 499.2,136.2 499.9,136.2 500.6,136.5 501.3,136.1 502.0,136.4 502.7,136.4 503.4,136.3" fill="none" stroke="#f07018" stroke-width="1.8" stroke-linejoin="round"/>
<line x1="379.6" y1="136.5" x2="379.6" y2="25.4" stroke="#ee0a90" stroke-width="1.6"/>
<line x1="378.7" y1="136.5" x2="378.7" y2="78" stroke="#f07018" stroke-width="1.6"/>
<line x1="377.2" y1="136.5" x2="378.5" y2="136.5" stroke="#c04070" stroke-width="0.5"/>
<line x1="377.2" y1="132.3" x2="378.5" y2="132.3" stroke="#c04070" stroke-width="0.5"/>
<line x1="377.2" y1="128.1" x2="378.5" y2="128.1" stroke="#c04070" stroke-width="0.5"/>
<line x1="377.2" y1="123.9" x2="378.5" y2="123.9" stroke="#c04070" stroke-width="0.5"/>
<line x1="377.2" y1="119.7" x2="378.5" y2="119.7" stroke="#c04070" stroke-width="0.5"/>
<line x1="377.2" y1="115.5" x2="378.5" y2="115.5" stroke="#c04070" stroke-width="0.5"/>
<line x1="377.2" y1="111.3" x2="378.5" y2="111.3" stroke="#c04070" stroke-width="0.5"/>
<line x1="377.2" y1="107.1" x2="378.5" y2="107.1" stroke="#c04070" stroke-width="0.5"/>
<line x1="377.2" y1="102.9" x2="378.5" y2="102.9" stroke="#c04070" stroke-width="0.5"/>
<line x1="377.2" y1="98.7" x2="378.5" y2="98.7" stroke="#c04070" stroke-width="0.5"/>
<line x1="377.2" y1="94.5" x2="378.5" y2="94.5" stroke="#c04070" stroke-width="0.5"/>
<line x1="377.2" y1="90.3" x2="378.5" y2="90.3" stroke="#c04070" stroke-width="0.5"/>
<line x1="377.2" y1="86.1" x2="378.5" y2="86.1" stroke="#c04070" stroke-width="0.5"/>
<line x1="377.2" y1="81.9" x2="378.5" y2="81.9" stroke="#c04070" stroke-width="0.5"/>
<line x1="377.2" y1="77.7" x2="378.5" y2="77.7" stroke="#c04070" stroke-width="0.5"/>
<line x1="377.2" y1="73.5" x2="378.5" y2="73.5" stroke="#c04070" stroke-width="0.5"/>
<line x1="377.2" y1="69.3" x2="378.5" y2="69.3" stroke="#c04070" stroke-width="0.5"/>
<line x1="377.2" y1="65.1" x2="378.5" y2="65.1" stroke="#c04070" stroke-width="0.5"/>
<line x1="377.2" y1="60.9" x2="378.5" y2="60.9" stroke="#c04070" stroke-width="0.5"/>
<line x1="377.2" y1="56.7" x2="378.5" y2="56.7" stroke="#c04070" stroke-width="0.5"/>
<line x1="377.2" y1="52.5" x2="378.5" y2="52.5" stroke="#c04070" stroke-width="0.5"/>
<line x1="377.2" y1="48.3" x2="378.5" y2="48.3" stroke="#c04070" stroke-width="0.5"/>
<line x1="377.2" y1="44.1" x2="378.5" y2="44.1" stroke="#c04070" stroke-width="0.5"/>
<line x1="377.2" y1="39.9" x2="378.5" y2="39.9" stroke="#c04070" stroke-width="0.5"/>
<line x1="377.2" y1="35.7" x2="378.5" y2="35.7" stroke="#c04070" stroke-width="0.5"/>
<line x1="377.2" y1="31.5" x2="378.5" y2="31.5" stroke="#c04070" stroke-width="0.5"/>
<line x1="377.2" y1="27.3" x2="378.5" y2="27.3" stroke="#c04070" stroke-width="0.5"/>
<line x1="379" y1="136.5" x2="379" y2="138.0" stroke="#6060a0" stroke-width="0.5"/>
<line x1="382.3" y1="136.5" x2="382.3" y2="138.0" stroke="#6060a0" stroke-width="0.5"/>
<line x1="385.6" y1="136.5" x2="385.6" y2="138.0" stroke="#6060a0" stroke-width="0.5"/>
<line x1="388.9" y1="136.5" x2="388.9" y2="138.0" stroke="#6060a0" stroke-width="0.5"/>
<line x1="392.2" y1="136.5" x2="392.2" y2="138.0" stroke="#6060a0" stroke-width="0.5"/>
<line x1="395.5" y1="136.5" x2="395.5" y2="138.0" stroke="#6060a0" stroke-width="0.5"/>
<line x1="398.8" y1="136.5" x2="398.8" y2="138.0" stroke="#6060a0" stroke-width="0.5"/>
<line x1="402.1" y1="136.5" x2="402.1" y2="138.0" stroke="#6060a0" stroke-width="0.5"/>
<line x1="405.4" y1="136.5" x2="405.4" y2="138.0" stroke="#6060a0" stroke-width="0.5"/>
<line x1="408.7" y1="136.5" x2="408.7" y2="138.0" stroke="#6060a0" stroke-width="0.5"/>
<line x1="412.0" y1="136.5" x2="412.0" y2="138.0" stroke="#6060a0" stroke-width="0.5"/>
<line x1="415.3" y1="136.5" x2="415.3" y2="138.0" stroke="#6060a0" stroke-width="0.5"/>
<line x1="418.6" y1="136.5" x2="418.6" y2="138.0" stroke="#6060a0" stroke-width="0.5"/>
<line x1="421.9" y1="136.5" x2="421.9" y2="138.0" stroke="#6060a0" stroke-width="0.5"/>
<line x1="425.2" y1="136.5" x2="425.2" y2="138.0" stroke="#6060a0" stroke-width="0.5"/>
<line x1="428.5" y1="136.5" x2="428.5" y2="138.0" stroke="#6060a0" stroke-width="0.5"/>
<line x1="431.8" y1="136.5" x2="431.8" y2="138.0" stroke="#6060a0" stroke-width="0.5"/>
<line x1="435.1" y1="136.5" x2="435.1" y2="138.0" stroke="#6060a0" stroke-width="0.5"/>
<line x1="438.4" y1="136.5" x2="438.4" y2="138.0" stroke="#6060a0" stroke-width="0.5"/>
<line x1="441.7" y1="136.5" x2="441.7" y2="138.0" stroke="#6060a0" stroke-width="0.5"/>
<line x1="445.0" y1="136.5" x2="445.0" y2="138.0" stroke="#6060a0" stroke-width="0.5"/>
<line x1="448.3" y1="136.5" x2="448.3" y2="138.0" stroke="#6060a0" stroke-width="0.5"/>
<line x1="451.6" y1="136.5" x2="451.6" y2="138.0" stroke="#6060a0" stroke-width="0.5"/>
<line x1="454.9" y1="136.5" x2="454.9" y2="138.0" stroke="#6060a0" stroke-width="0.5"/>
<line x1="458.2" y1="136.5" x2="458.2" y2="138.0" stroke="#6060a0" stroke-width="0.5"/>
<line x1="461.5" y1="136.5" x2="461.5" y2="138.0" stroke="#6060a0" stroke-width="0.5"/>
<line x1="464.8" y1="136.5" x2="464.8" y2="138.0" stroke="#6060a0" stroke-width="0.5"/>
<line x1="468.1" y1="136.5" x2="468.1" y2="138.0" stroke="#6060a0" stroke-width="0.5"/>
<line x1="471.4" y1="136.5" x2="471.4" y2="138.0" stroke="#6060a0" stroke-width="0.5"/>
<line x1="474.7" y1="136.5" x2="474.7" y2="138.0" stroke="#6060a0" stroke-width="0.5"/>
<line x1="478.0" y1="136.5" x2="478.0" y2="138.0" stroke="#6060a0" stroke-width="0.5"/>
<line x1="481.3" y1="136.5" x2="481.3" y2="138.0" stroke="#6060a0" stroke-width="0.5"/>
<line x1="484.6" y1="136.5" x2="484.6" y2="138.0" stroke="#6060a0" stroke-width="0.5"/>
<line x1="487.9" y1="136.5" x2="487.9" y2="138.0" stroke="#6060a0" stroke-width="0.5"/>
<line x1="491.2" y1="136.5" x2="491.2" y2="138.0" stroke="#6060a0" stroke-width="0.5"/>
<line x1="494.5" y1="136.5" x2="494.5" y2="138.0" stroke="#6060a0" stroke-width="0.5"/>
<line x1="497.8" y1="136.5" x2="497.8" y2="138.0" stroke="#6060a0" stroke-width="0.5"/>
<line x1="501.1" y1="136.5" x2="501.1" y2="138.0" stroke="#6060a0" stroke-width="0.5"/>
<text x="21.6" y="136.8" font-size="7.2" text-anchor="end" fill="#1a1a1a" >0</text>
<text x="21.6" y="120.1" font-size="7.2" text-anchor="end" fill="#1a1a1a" >20</text>
<text x="21.6" y="103.5" font-size="7.2" text-anchor="end" fill="#1a1a1a" >40</text>
<text x="21.6" y="86.8" font-size="7.2" text-anchor="end" fill="#1a1a1a" >60</text>
<text x="21.6" y="70.1" font-size="7.2" text-anchor="end" fill="#1a1a1a" >80</text>
<text x="21.6" y="53.5" font-size="7.2" text-anchor="end" fill="#1a1a1a" >100</text>
<text x="21.6" y="36.8" font-size="7.2" text-anchor="end" fill="#1a1a1a" >120</text>
<text x="195.2" y="138.3" font-size="7.2" text-anchor="end" fill="#1a1a1a" >0</text>
<text x="195.2" y="121.4" font-size="7.2" text-anchor="end" fill="#1a1a1a" >20</text>
<text x="195.2" y="104.5" font-size="7.2" text-anchor="end" fill="#1a1a1a" >40</text>
<text x="195.2" y="87.6" font-size="7.2" text-anchor="end" fill="#1a1a1a" >60</text>
<text x="195.2" y="70.7" font-size="7.2" text-anchor="end" fill="#1a1a1a" >80</text>
<text x="195.2" y="53.8" font-size="7.2" text-anchor="end" fill="#1a1a1a" >100</text>
<text x="195.2" y="36.9" font-size="7.2" text-anchor="end" fill="#1a1a1a" >120</text>
<text x="372.6" y="137.3" font-size="7.2" text-anchor="end" fill="#1a1a1a" >0</text>
<text x="372.6" y="120.6" font-size="7.2" text-anchor="end" fill="#1a1a1a" >20</text>
<text x="372.6" y="103.9" font-size="7.2" text-anchor="end" fill="#1a1a1a" >40</text>
<text x="372.6" y="87.2" font-size="7.2" text-anchor="end" fill="#1a1a1a" >60</text>
<text x="372.6" y="70.5" font-size="7.2" text-anchor="end" fill="#1a1a1a" >80</text>
<text x="372.6" y="53.8" font-size="7.2" text-anchor="end" fill="#1a1a1a" >100</text>
<text x="372.6" y="37.1" font-size="7.2" text-anchor="end" fill="#1a1a1a" >120</text>
<text x="0" y="0" font-size="9.8" fill="#1a1a1a" text-anchor="middle" transform="translate(9.0,84.3) rotate(-90)">Counts</text>
<text x="0" y="0" font-size="9.8" fill="#1a1a1a" text-anchor="middle" transform="translate(179.6,83.4) rotate(-90)">Counts</text>
<text x="0" y="0" font-size="9.8" fill="#1a1a1a" text-anchor="middle" transform="translate(359.7,82.8) rotate(-90)">Counts</text>
<text x="26.2" y="151.0" font-size="7.4" fill="#1a1a1a">10<tspan font-size="6.2" dy="-3.2" style="stroke-width:0.2px">0</tspan></text>
<text x="56.7" y="151.0" font-size="7.4" fill="#1a1a1a">10<tspan font-size="6.2" dy="-3.2" style="stroke-width:0.2px">1</tspan></text>
<text x="86.7" y="151.0" font-size="7.4" fill="#1a1a1a">10<tspan font-size="6.2" dy="-3.2" style="stroke-width:0.2px">2</tspan></text>
<text x="120.4" y="151.0" font-size="7.4" fill="#1a1a1a">10<tspan font-size="6.2" dy="-3.2" style="stroke-width:0.2px">3</tspan></text>
<text x="149.5" y="151.0" font-size="7.4" fill="#1a1a1a">10<tspan font-size="6.2" dy="-3.2" style="stroke-width:0.2px">4</tspan></text>
<text x="200.8" y="152.4" font-size="7.4" fill="#1a1a1a">10<tspan font-size="6.2" dy="-3.2" style="stroke-width:0.2px">0</tspan></text>
<text x="233.5" y="152.4" font-size="7.4" fill="#1a1a1a">10<tspan font-size="6.2" dy="-3.2" style="stroke-width:0.2px">1</tspan></text>
<text x="265.2" y="152.4" font-size="7.4" fill="#1a1a1a">10<tspan font-size="6.2" dy="-3.2" style="stroke-width:0.2px">2</tspan></text>
<text x="299.8" y="152.4" font-size="7.4" fill="#1a1a1a">10<tspan font-size="6.2" dy="-3.2" style="stroke-width:0.2px">3</tspan></text>
<text x="329.5" y="152.4" font-size="7.4" fill="#1a1a1a">10<tspan font-size="6.2" dy="-3.2" style="stroke-width:0.2px">4</tspan></text>
<text x="379.6" y="152.4" font-size="7.4" fill="#1a1a1a">10<tspan font-size="6.2" dy="-3.2" style="stroke-width:0.2px">0</tspan></text>
<text x="409.9" y="152.4" font-size="7.4" fill="#1a1a1a">10<tspan font-size="6.2" dy="-3.2" style="stroke-width:0.2px">1</tspan></text>
<text x="440.2" y="152.4" font-size="7.4" fill="#1a1a1a">10<tspan font-size="6.2" dy="-3.2" style="stroke-width:0.2px">2</tspan></text>
<text x="473.3" y="152.4" font-size="7.4" fill="#1a1a1a">10<tspan font-size="6.2" dy="-3.2" style="stroke-width:0.2px">3</tspan></text>
<text x="502.8" y="152.4" font-size="7.4" fill="#1a1a1a">10<tspan font-size="6.2" dy="-3.2" style="stroke-width:0.2px">4</tspan></text>
<text x="32.9" y="163" font-size="8" fill="#1a1a1a" xml:space="preserve">Fluorescence  intensity  (log  scale)</text>
<text x="208.8" y="164" font-size="8" fill="#1a1a1a" xml:space="preserve">Fluorescence  intensity  (log  scale)</text>
<text x="387.3" y="162.5" font-size="8" fill="#1a1a1a" xml:space="preserve">Fluorescence  intensity  (log  scale)</text>
<text x="53.6" y="49.6" font-size="8.15" fill="#1a1a1a" >unstained</text>
<text x="46.6" y="65.8" font-size="8.15" fill="#1a1a1a" >WT</text>
<text x="64.5" y="66.3" font-size="8.15" fill="#1a1a1a">SR-BI<tspan font-size="4.7" dy="-2.7" style="stroke-width:0.1px">-/-</tspan></text>
<text x="124.2" y="46.8" font-size="8.15" fill="#1a1a1a" >ADP</text>
<text x="114.3" y="59.2" font-size="8.15" fill="#1a1a1a" >WT</text>
<text x="133.0" y="59.2" font-size="8.15" fill="#1a1a1a">SR-BI<tspan font-size="4.7" dy="-2.7" style="stroke-width:0.1px">-/-</tspan></text>
<line x1="53.7" y1="71.5" x2="40.0" y2="103.0" stroke="#111" stroke-width="1.2"/>
<polygon points="36.2,111.7 36.8,101.6 43.2,104.4" fill="#111"/>
<line x1="74" y1="72.7" x2="56.4" y2="104.0" stroke="#111" stroke-width="1.2"/>
<polygon points="51.7,112.3 53.3,102.3 59.4,105.7" fill="#111"/>
<line x1="120.9" y1="62.3" x2="116.3" y2="70.3" stroke="#111" stroke-width="1.2"/>
<polygon points="111.6,78.5 113.3,68.5 119.4,72.0" fill="#111"/>
<line x1="142.4" y1="70.1" x2="118.6" y2="110.2" stroke="#111" stroke-width="1.2"/>
<polygon points="113.8,118.4 115.6,108.4 121.7,112.0" fill="#111"/>
<text x="219.0" y="55.6" font-size="8.15" fill="#1a1a1a" >resting</text>
<text x="208.9" y="71" font-size="8.15" fill="#1a1a1a" >WT</text>
<text x="229.7" y="69" font-size="8.15" fill="#1a1a1a">SR-BI<tspan font-size="4.7" dy="-2.7" style="stroke-width:0.1px">-/-</tspan></text>
<text x="292.1" y="53.7" font-size="10" fill="#1a1a1a" >PAR4-AP</text>
<text x="285.7" y="70.4" font-size="8.15" fill="#1a1a1a" >WT</text>
<text x="309.4" y="67.7" font-size="8.15" fill="#1a1a1a">SR-BI<tspan font-size="4.7" dy="-2.7" style="stroke-width:0.1px">-/-</tspan></text>
<line x1="218.6" y1="81.4" x2="225.0" y2="100.7" stroke="#111" stroke-width="1.2"/>
<polygon points="228,109.7 221.7,101.8 228.3,99.6" fill="#111"/>
<line x1="237.4" y1="73" x2="239.2" y2="89.6" stroke="#111" stroke-width="1.2"/>
<polygon points="240.3,99 235.8,89.9 242.7,89.2" fill="#111"/>
<line x1="289.5" y1="72.2" x2="274.1" y2="99.7" stroke="#111" stroke-width="1.2"/>
<polygon points="269.4,108 271.0,98.0 277.1,101.4" fill="#111"/>
<line x1="317.4" y1="73" x2="290.4" y2="114.4" stroke="#111" stroke-width="1.2"/>
<polygon points="285.2,122.4 287.5,112.5 293.3,116.4" fill="#111"/>
<text x="397.1" y="44.8" font-size="8.15" fill="#1a1a1a" >resting</text>
<text x="389.7" y="56.3" font-size="8.15" fill="#1a1a1a" >WT</text>
<text x="415.8" y="56.3" font-size="8.15" fill="#1a1a1a">SR-BI<tspan font-size="4.7" dy="-2.7" style="stroke-width:0.1px">-/-</tspan></text>
<text x="479.1" y="43.7" font-size="8.15" fill="#1a1a1a" >CVX</text>
<text x="469.7" y="56.3" font-size="8.15" fill="#1a1a1a" >WT</text>
<text x="490.4" y="56.3" font-size="8.15" fill="#1a1a1a">SR-BI<tspan font-size="4.7" dy="-2.7" style="stroke-width:0.1px">-/-</tspan></text>
<line x1="397.5" y1="61.7" x2="402.6" y2="96.3" stroke="#111" stroke-width="1.2"/>
<polygon points="404,105.7 399.1,96.8 406.1,95.8" fill="#111"/>
<line x1="432.9" y1="61.5" x2="430.4" y2="78.9" stroke="#111" stroke-width="1.2"/>
<polygon points="429,88.3 426.9,78.4 433.8,79.4" fill="#111"/>
<line x1="471.9" y1="64.2" x2="466.6" y2="81.9" stroke="#111" stroke-width="1.2"/>
<polygon points="463.9,91 463.3,80.9 470.0,82.9" fill="#111"/>
<line x1="499.8" y1="65.8" x2="470.4" y2="115.9" stroke="#111" stroke-width="1.2"/>
<polygon points="465.6,124.1 467.4,114.1 473.4,117.7" fill="#111"/>
<text x="0.1" y="195.8" font-size="17" font-weight="bold" fill="#000" >B</text>
<text y="205.7" font-size="8.2" fill="#1a1a1a"><tspan x="87.4" font-size="5.5" y="202">α</tspan><tspan x="91.8" font-size="7.6" y="205.5">IIb</tspan><tspan x="101.8" font-size="5.5" y="201">β</tspan><tspan x="105.5" font-size="7.6" y="205.7">3</tspan><tspan x="112.6" y="205.7">activation</tspan></text>
<line x1="60.4" y1="216" x2="209.8" y2="216" stroke="#222" stroke-width="1.3"/>
<text x="231" y="206" font-size="8.3" fill="#1a1a1a" xml:space="preserve">P-selectin  expression</text>
<line x1="239.4" y1="215" x2="308.6" y2="215" stroke="#222" stroke-width="1.3"/>
<line x1="48.5" y1="211.7" x2="48.5" y2="347.7" stroke="#222" stroke-width="1.1"/>
<line x1="48.5" y1="212.1" x2="53.1" y2="212.1" stroke="#222" stroke-width="1.1"/>
<text x="44.3" y="215.9" font-size="8.5" text-anchor="end" fill="#1a1a1a" >300</text>
<line x1="48.5" y1="257.2" x2="53.1" y2="257.2" stroke="#222" stroke-width="1.1"/>
<text x="44.3" y="261.0" font-size="8.5" text-anchor="end" fill="#1a1a1a" >200</text>
<line x1="48.5" y1="302.2" x2="53.1" y2="302.2" stroke="#222" stroke-width="1.1"/>
<text x="44.3" y="306.0" font-size="8.5" text-anchor="end" fill="#1a1a1a" >100</text>
<line x1="48.5" y1="347.3" x2="53.1" y2="347.3" stroke="#222" stroke-width="1.1"/>
<text x="44.3" y="351.1" font-size="8.5" text-anchor="end" fill="#1a1a1a" >0</text>
<text x="0" y="0" font-size="10" fill="#1a1a1a" text-anchor="middle" transform="translate(21.6,276.8) rotate(-90)">Median fluorescence intensity</text>
<line x1="65.85" y1="340" x2="65.85" y2="339" stroke="#222" stroke-width="1.0"/>
<line x1="63.349999999999994" y1="339" x2="68.35" y2="339" stroke="#222" stroke-width="1.0"/>
<rect x="61.3" y="340" width="9.100000000000009" height="7.300000000000011" fill="#3b350a" stroke="#111" stroke-width="0.9"/>
<line x1="74.80000000000001" y1="336.2" x2="74.80000000000001" y2="334.4" stroke="#222" stroke-width="1.0"/>
<line x1="72.30000000000001" y1="334.4" x2="77.30000000000001" y2="334.4" stroke="#222" stroke-width="1.0"/>
<rect x="70.4" y="336.2" width="8.799999999999997" height="11.100000000000023" fill="#fff" stroke="#111" stroke-width="0.9"/>
<line x1="92.45" y1="252.1" x2="92.45" y2="241.4" stroke="#222" stroke-width="1.0"/>
<line x1="89.95" y1="241.4" x2="94.95" y2="241.4" stroke="#222" stroke-width="1.0"/>
<rect x="87.7" y="252.1" width="9.5" height="95.20000000000002" fill="#3b350a" stroke="#111" stroke-width="0.9"/>
<line x1="101.6" y1="294.4" x2="101.6" y2="291" stroke="#222" stroke-width="1.0"/>
<line x1="99.1" y1="291" x2="104.1" y2="291" stroke="#222" stroke-width="1.0"/>
<rect x="97.2" y="294.4" width="8.799999999999997" height="52.900000000000034" fill="#fff" stroke="#111" stroke-width="0.9"/>
<line x1="117.0" y1="334.8" x2="117.0" y2="333.5" stroke="#222" stroke-width="1.0"/>
<line x1="114.5" y1="333.5" x2="119.5" y2="333.5" stroke="#222" stroke-width="1.0"/>
<rect x="112.5" y="334.8" width="9.0" height="12.5" fill="#3b350a" stroke="#111" stroke-width="0.9"/>
<line x1="126.35" y1="316.2" x2="126.35" y2="313.7" stroke="#222" stroke-width="1.0"/>
<line x1="123.85" y1="313.7" x2="128.85" y2="313.7" stroke="#222" stroke-width="1.0"/>
<rect x="121.5" y="316.2" width="9.699999999999989" height="31.100000000000023" fill="#fff" stroke="#111" stroke-width="0.9"/>
<line x1="143.95" y1="307" x2="143.95" y2="306" stroke="#222" stroke-width="1.0"/>
<line x1="141.45" y1="306" x2="146.45" y2="306" stroke="#222" stroke-width="1.0"/>
<rect x="139.4" y="307" width="9.099999999999994" height="40.30000000000001" fill="#3b350a" stroke="#111" stroke-width="0.9"/>
<line x1="152.9" y1="252.3" x2="152.9" y2="244.6" stroke="#222" stroke-width="1.0"/>
<line x1="150.4" y1="244.6" x2="155.4" y2="244.6" stroke="#222" stroke-width="1.0"/>
<rect x="148.5" y="252.3" width="8.800000000000011" height="95.0" fill="#fff" stroke="#111" stroke-width="0.9"/>
<line x1="173.0" y1="292.5" x2="173.0" y2="287.6" stroke="#222" stroke-width="1.0"/>
<line x1="170.5" y1="287.6" x2="175.5" y2="287.6" stroke="#222" stroke-width="1.0"/>
<rect x="168.1" y="292.5" width="9.800000000000011" height="54.80000000000001" fill="#000" stroke="#111" stroke-width="0.9"/>
<line x1="182.65" y1="310.5" x2="182.65" y2="305.5" stroke="#222" stroke-width="1.0"/>
<line x1="180.15" y1="305.5" x2="185.15" y2="305.5" stroke="#222" stroke-width="1.0"/>
<rect x="177.9" y="310.5" width="9.5" height="36.80000000000001" fill="#fff" stroke="#111" stroke-width="0.9"/>
<line x1="203.5" y1="259" x2="203.5" y2="253.2" stroke="#222" stroke-width="1.0"/>
<line x1="201.0" y1="253.2" x2="206.0" y2="253.2" stroke="#222" stroke-width="1.0"/>
<rect x="199" y="259" width="9" height="88.30000000000001" fill="#3b350a" stroke="#111" stroke-width="0.9"/>
<line x1="212.5" y1="300.5" x2="212.5" y2="293.3" stroke="#222" stroke-width="1.0"/>
<line x1="210.0" y1="293.3" x2="215.0" y2="293.3" stroke="#222" stroke-width="1.0"/>
<rect x="208" y="300.5" width="9" height="46.80000000000001" fill="#fff" stroke="#111" stroke-width="0.9"/>
<line x1="241.5" y1="343" x2="241.5" y2="342" stroke="#222" stroke-width="1.0"/>
<line x1="239.0" y1="342" x2="244.0" y2="342" stroke="#222" stroke-width="1.0"/>
<rect x="237" y="343" width="9" height="4.300000000000011" fill="#3b350a" stroke="#111" stroke-width="0.9"/>
<line x1="250.4" y1="342" x2="250.4" y2="341" stroke="#222" stroke-width="1.0"/>
<line x1="247.9" y1="341" x2="252.9" y2="341" stroke="#222" stroke-width="1.0"/>
<rect x="246" y="342" width="8.800000000000011" height="5.300000000000011" fill="#fff" stroke="#111" stroke-width="0.9"/>
<line x1="264.29999999999995" y1="337.5" x2="264.29999999999995" y2="336" stroke="#222" stroke-width="1.0"/>
<line x1="261.79999999999995" y1="336" x2="266.79999999999995" y2="336" stroke="#222" stroke-width="1.0"/>
<rect x="259.4" y="337.5" width="9.800000000000011" height="9.800000000000011" fill="#3b350a" stroke="#111" stroke-width="0.9"/>
<line x1="274.1" y1="327.7" x2="274.1" y2="326" stroke="#222" stroke-width="1.0"/>
<line x1="271.6" y1="326" x2="276.6" y2="326" stroke="#222" stroke-width="1.0"/>
<rect x="269.2" y="327.7" width="9.800000000000011" height="19.600000000000023" fill="#fff" stroke="#111" stroke-width="0.9"/>
<line x1="293.05" y1="329.8" x2="293.05" y2="326" stroke="#222" stroke-width="1.0"/>
<line x1="290.55" y1="326" x2="295.55" y2="326" stroke="#222" stroke-width="1.0"/>
<rect x="288.3" y="329.8" width="9.5" height="17.5" fill="#000" stroke="#111" stroke-width="0.9"/>
<line x1="302.3" y1="340.6" x2="302.3" y2="337.8" stroke="#222" stroke-width="1.0"/>
<line x1="299.8" y1="337.8" x2="304.8" y2="337.8" stroke="#222" stroke-width="1.0"/>
<rect x="297.8" y="340.6" width="9.0" height="6.699999999999989" fill="#fff" stroke="#111" stroke-width="0.9"/>
<text x="71" y="332.2" font-size="10" font-weight="bold" text-anchor="middle" fill="#111" >*</text>
<polyline points="66,332.4 66,330.4 75,330.4 75,332.4" fill="none" stroke="#222" stroke-width="0.9"/>
<text x="96.5" y="240.8" font-size="10" font-weight="bold" text-anchor="middle" fill="#111" >*</text>
<polyline points="93,240.5 93,238.5 100.8,238.5 100.8,240.5" fill="none" stroke="#222" stroke-width="0.9"/>
<text x="121.2" y="310.8" font-size="10" font-weight="bold" text-anchor="middle" fill="#111" >**</text>
<polyline points="116.3,310.8 116.3,308.8 126.9,308.8 126.9,310.8" fill="none" stroke="#222" stroke-width="0.9"/>
<text x="149" y="242.4" font-size="10" font-weight="bold" text-anchor="middle" fill="#111" >**</text>
<polyline points="144.2,242.8 144.2,240.8 152.9,240.8 152.9,242.8" fill="none" stroke="#222" stroke-width="0.9"/>
<text x="177.9" y="285.4" font-size="10" font-weight="bold" text-anchor="middle" fill="#111" >*</text>
<polyline points="173,286.2 173,284.2 181.7,284.2 181.7,286.2" fill="none" stroke="#222" stroke-width="0.9"/>
<text x="209.2" y="247.7" font-size="10" font-weight="bold" text-anchor="middle" fill="#111" >*</text>
<polyline points="204.5,248 204.5,246 213.5,246 213.5,248" fill="none" stroke="#222" stroke-width="0.9"/>
<text x="269.2" y="323.2" font-size="10" font-weight="bold" text-anchor="middle" fill="#111" >**</text>
<polyline points="264.6,322.5 264.6,320.5 273.8,320.5 273.8,322.5" fill="none" stroke="#222" stroke-width="0.9"/>
<text x="297.5" y="324.7" font-size="10" font-weight="bold" text-anchor="middle" fill="#111" >*</text>
<polyline points="293,323.5 293,321.5 302,321.5 302,323.5" fill="none" stroke="#222" stroke-width="0.9"/>
<rect x="248.3" y="237.8" width="14.7" height="8.4" fill="#000" stroke="#111" stroke-width="0.9"/>
<rect x="248.3" y="250" width="14.7" height="8.5" fill="#fff" stroke="#111" stroke-width="0.9"/>
<text x="267.2" y="244.6" font-size="8.5" fill="#1a1a1a" >WT</text>
<text x="267.2" y="257" font-size="8.5" fill="#1a1a1a">SR-BI<tspan font-size="4.9" dy="-2.8" style="stroke-width:0.1px">-/-</tspan></text>
<text x="0" y="0" font-size="7.7" fill="#1a1a1a" xml:space="preserve" transform="translate(64.5,354.5) rotate(45)">resting</text>
<text x="0" y="0" font-size="7.7" fill="#1a1a1a" xml:space="preserve" transform="translate(87.5,355.0) rotate(45)">ADP  5μM</text>
<text x="0" y="0" font-size="7.7" fill="#1a1a1a" xml:space="preserve" transform="translate(117.3,354.6) rotate(42)">PAR4-AP</text>
<text x="0" y="0" font-size="7.7" fill="#1a1a1a" xml:space="preserve" transform="translate(110.2,363.2) rotate(42)">60μM</text>
<text x="0" y="0" font-size="7.7" fill="#1a1a1a" xml:space="preserve" transform="translate(146.1,354.6) rotate(42)">PAR4-AP</text>
<text x="0" y="0" font-size="7.7" fill="#1a1a1a" xml:space="preserve" transform="translate(139.4,362.1) rotate(42)">120μM</text>
<text x="0" y="0" font-size="7.7" fill="#1a1a1a" xml:space="preserve" transform="translate(176.1,353.8) rotate(45)">CVX</text>
<text x="0" y="0" font-size="7.7" fill="#1a1a1a" xml:space="preserve" transform="translate(169.8,358.2) rotate(45)">20ng mL</text>
<text x="0" y="0" font-size="7.7" fill="#1a1a1a" xml:space="preserve" transform="translate(206.1,353.8) rotate(45)">CVX</text>
<text x="0" y="0" font-size="7.7" fill="#1a1a1a" xml:space="preserve" transform="translate(199.8,358.8) rotate(45)">40ng mL</text>
<text x="0" y="0" font-size="7.7" fill="#1a1a1a" xml:space="preserve" transform="translate(239.7,355.1) rotate(45)">resting</text>
<text x="0" y="0" font-size="7.7" fill="#1a1a1a" xml:space="preserve" transform="translate(268.9,355.1) rotate(45)">PAR4-AP</text>
<text x="0" y="0" font-size="7.7" fill="#1a1a1a" xml:space="preserve" transform="translate(261.2,364.3) rotate(45)">120μM</text>
<text x="0" y="0" font-size="7.7" fill="#1a1a1a" xml:space="preserve" transform="translate(296.1,354.6) rotate(45)">CVX</text>
<text x="0" y="0" font-size="7.7" fill="#1a1a1a" xml:space="preserve" transform="translate(289,360.6) rotate(45)">40ng mL</text>
<text x="341.6" y="195.3" font-size="16.6" font-weight="bold" fill="#000" >C</text>
<line x1="372.7" y1="200.2" x2="372.7" y2="351.0" stroke="#222" stroke-width="1.1"/>
<line x1="372.7" y1="200.6" x2="377.3" y2="200.6" stroke="#222" stroke-width="1.1"/>
<text x="368.8" y="204.0" font-size="8.5" text-anchor="end" fill="#1a1a1a" >400</text>
<line x1="372.7" y1="238.1" x2="377.3" y2="238.1" stroke="#222" stroke-width="1.1"/>
<text x="368.8" y="241.5" font-size="8.5" text-anchor="end" fill="#1a1a1a" >300</text>
<line x1="372.7" y1="275.6" x2="377.3" y2="275.6" stroke="#222" stroke-width="1.1"/>
<text x="368.8" y="279.0" font-size="8.5" text-anchor="end" fill="#1a1a1a" >200</text>
<line x1="372.7" y1="313.1" x2="377.3" y2="313.1" stroke="#222" stroke-width="1.1"/>
<text x="368.8" y="316.5" font-size="8.5" text-anchor="end" fill="#1a1a1a" >100</text>
<line x1="372.7" y1="350.6" x2="377.3" y2="350.6" stroke="#222" stroke-width="1.1"/>
<text x="368.8" y="354.0" font-size="8.5" text-anchor="end" fill="#1a1a1a" >0</text>
<text x="0" y="0" font-size="10" fill="#1a1a1a" text-anchor="middle" transform="translate(349.5,274.6) rotate(-90)">Median fluorescence intensity</text>
<rect x="384.7" y="205.4" width="14" height="9.2" fill="#000" stroke="#111" stroke-width="0.9"/>
<rect x="384.7" y="217.9" width="14" height="9.2" fill="#fff" stroke="#111" stroke-width="0.9"/>
<text x="401.3" y="213.5" font-size="8.5" fill="#1a1a1a" >WT</text>
<text x="401.3" y="226.5" font-size="8.5" fill="#1a1a1a">SR-BI<tspan font-size="4.9" dy="-2.8" style="stroke-width:0.1px">-/-</tspan></text>
<line x1="386.2" y1="343.4" x2="386.2" y2="342.5" stroke="#222" stroke-width="1.0"/>
<line x1="383.7" y1="342.5" x2="388.7" y2="342.5" stroke="#222" stroke-width="1.0"/>
<rect x="381.5" y="343.4" width="9.399999999999977" height="7.2000000000000455" fill="#3b350a" stroke="#111" stroke-width="0.9"/>
<line x1="395.75" y1="339.9" x2="395.75" y2="338.5" stroke="#222" stroke-width="1.0"/>
<line x1="393.25" y1="338.5" x2="398.25" y2="338.5" stroke="#222" stroke-width="1.0"/>
<rect x="390.9" y="339.9" width="9.700000000000045" height="10.700000000000045" fill="#fff" stroke="#111" stroke-width="0.9"/>
<line x1="410.95000000000005" y1="295.3" x2="410.95000000000005" y2="293" stroke="#222" stroke-width="1.0"/>
<line x1="408.45000000000005" y1="293" x2="413.45000000000005" y2="293" stroke="#222" stroke-width="1.0"/>
<rect x="405.8" y="295.3" width="10.300000000000011" height="55.30000000000001" fill="#3b350a" stroke="#111" stroke-width="0.9"/>
<line x1="421.3" y1="323.6" x2="421.3" y2="317.4" stroke="#222" stroke-width="1.0"/>
<line x1="418.8" y1="317.4" x2="423.8" y2="317.4" stroke="#222" stroke-width="1.0"/>
<rect x="416.1" y="323.6" width="10.399999999999977" height="27.0" fill="#fff" stroke="#111" stroke-width="0.9"/>
<line x1="438.3" y1="336.5" x2="438.3" y2="334" stroke="#222" stroke-width="1.0"/>
<line x1="435.8" y1="334" x2="440.8" y2="334" stroke="#222" stroke-width="1.0"/>
<rect x="433.5" y="336.5" width="9.600000000000023" height="14.100000000000023" fill="#3b350a" stroke="#111" stroke-width="0.9"/>
<line x1="447.8" y1="310.5" x2="447.8" y2="303.6" stroke="#222" stroke-width="1.0"/>
<line x1="445.3" y1="303.6" x2="450.3" y2="303.6" stroke="#222" stroke-width="1.0"/>
<rect x="443.1" y="310.5" width="9.399999999999977" height="40.10000000000002" fill="#fff" stroke="#111" stroke-width="0.9"/>
<line x1="462.79999999999995" y1="320.9" x2="462.79999999999995" y2="316" stroke="#222" stroke-width="1.0"/>
<line x1="460.29999999999995" y1="316" x2="465.29999999999995" y2="316" stroke="#222" stroke-width="1.0"/>
<rect x="458.4" y="320.9" width="8.800000000000011" height="29.700000000000045" fill="#3b350a" stroke="#111" stroke-width="0.9"/>
<line x1="471.95" y1="261" x2="471.95" y2="241.3" stroke="#222" stroke-width="1.0"/>
<line x1="469.45" y1="241.3" x2="474.45" y2="241.3" stroke="#222" stroke-width="1.0"/>
<rect x="467.2" y="261" width="9.5" height="89.60000000000002" fill="#fff" stroke="#111" stroke-width="0.9"/>
<line x1="489.2" y1="239.8" x2="489.2" y2="233.3" stroke="#222" stroke-width="1.0"/>
<line x1="486.7" y1="233.3" x2="491.7" y2="233.3" stroke="#222" stroke-width="1.0"/>
<rect x="484.4" y="239.8" width="9.600000000000023" height="110.80000000000001" fill="#3b350a" stroke="#111" stroke-width="0.9"/>
<line x1="498.65" y1="278.8" x2="498.65" y2="271.7" stroke="#222" stroke-width="1.0"/>
<line x1="496.15" y1="271.7" x2="501.15" y2="271.7" stroke="#222" stroke-width="1.0"/>
<rect x="494" y="278.8" width="9.300000000000011" height="71.80000000000001" fill="#fff" stroke="#111" stroke-width="0.9"/>
<text x="390.9" y="335.7" font-size="10" font-weight="bold" text-anchor="middle" fill="#111" >*</text>
<polyline points="386,337.1 386,335.1 395.4,335.1 395.4,337.1" fill="none" stroke="#222" stroke-width="0.9"/>
<text x="416.1" y="288.3" font-size="10" font-weight="bold" text-anchor="middle" fill="#111" >**</text>
<polyline points="411,288.6 411,286.6 421.3,286.6 421.3,288.6" fill="none" stroke="#222" stroke-width="0.9"/>
<text x="442.8" y="298.7" font-size="10" font-weight="bold" text-anchor="middle" fill="#111" >*</text>
<polyline points="438,299 438,297 447,297 447,299" fill="none" stroke="#222" stroke-width="0.9"/>
<text x="466.4" y="237.9" font-size="10" font-weight="bold" text-anchor="middle" fill="#111" >*</text>
<polyline points="461.3,239.5 461.3,237.5 471.5,237.5 471.5,239.5" fill="none" stroke="#222" stroke-width="0.9"/>
<text x="494" y="230.8" font-size="10" font-weight="bold" text-anchor="middle" fill="#111" >*</text>
<polyline points="489,230.3 489,228.3 499,228.3 499,230.3" fill="none" stroke="#222" stroke-width="0.9"/>
<text x="0" y="0" font-size="7.7" fill="#1a1a1a" xml:space="preserve" transform="translate(383.8,357.8) rotate(47)">resting</text>
<text x="0" y="0" font-size="7.7" fill="#1a1a1a" xml:space="preserve" transform="translate(409,357.8) rotate(47)">ADP  5μM</text>
<text x="0" y="0" font-size="7.5" fill="#1a1a1a" xml:space="preserve" transform="translate(440.5,361.6) rotate(46)">Thrombin</text>
<text x="0" y="0" font-size="7.5" fill="#1a1a1a" xml:space="preserve" transform="translate(432.7,365.8) rotate(46)">0.005U/mL</text>
<text x="0" y="0" font-size="7.5" fill="#1a1a1a" xml:space="preserve" transform="translate(467.6,361.6) rotate(46)">Thrombin</text>
<text x="0" y="0" font-size="7.5" fill="#1a1a1a" xml:space="preserve" transform="translate(461.7,366.2) rotate(46)">0.01U/mL</text>
<text x="0" y="0" font-size="7.7" fill="#1a1a1a" xml:space="preserve" transform="translate(494.4,360.2) rotate(46)">CVX</text>
<text x="0" y="0" font-size="7.7" fill="#1a1a1a" xml:space="preserve" transform="translate(488.6,364.5) rotate(46)">20ng mL</text>
<text x="0.1" y="425.6" font-size="17" font-weight="bold" fill="#000" >D</text>
<text x="51.2" y="424.8" font-size="8.5" fill="#1a1a1a" >P2Y1</text>
<text x="51.8" y="445.1" font-size="8.5" fill="#1a1a1a" >P2Y12</text>
<text x="51.2" y="464.5" font-size="8.5" fill="#1a1a1a" >PAR3</text>
<text x="51.2" y="486.9" font-size="8.5" fill="#1a1a1a" >PAR4</text>
<text x="51.2" y="508.2" font-size="8.5" fill="#1a1a1a" >SR-BI</text>
<text x="51.2" y="528.9" font-size="8.5" fill="#1a1a1a" >β-actin</text>
<rect x="85.3" y="413" width="83.7" height="16.6" fill="#a7a7a7"/>
<rect x="85.3" y="434" width="83.7" height="16.4" fill="#8d8d8d"/>
<rect x="85.3" y="455" width="83.7" height="16.0" fill="url(#gPar3)"/>
<rect x="85.3" y="475.5" width="83.7" height="16.8" fill="#bfbfbf"/>
<rect x="85.3" y="497" width="83.7" height="15.8" fill="#a6a6a6"/>
<rect x="85.3" y="518" width="83.7" height="16.2" fill="url(#gAct)"/>
<rect x="91.0" y="418.4" width="10.6" height="2.8" rx="1.2" fill="#151515" opacity="0.95" filter="url(#b1)"/>
<rect x="105.6" y="418.3" width="11.9" height="3.0" rx="1.2" fill="#151515" opacity="0.95" filter="url(#b1)"/>
<rect x="122.4" y="418.4" width="10.6" height="2.8" rx="1.2" fill="#151515" opacity="0.95" filter="url(#b1)"/>
<rect x="137.5" y="418.3" width="11.5" height="3.0" rx="1.2" fill="#151515" opacity="0.95" filter="url(#b1)"/>
<rect x="154.0" y="418.4" width="10.0" height="2.8" rx="1.2" fill="#151515" opacity="0.95" filter="url(#b1)"/>
<rect x="89.5" y="436.0" width="13.6" height="12" rx="3" fill="#7a7a7a" opacity="0.55" filter="url(#b2)"/>
<rect x="90.5" y="439.5" width="11.6" height="4.2" rx="1.5" fill="#4e4e4e" opacity="0.6" filter="url(#b1)"/>
<rect x="92.0" y="439.6" width="6.6" height="2" rx="1" fill="#3a3a3a" opacity="0.4" filter="url(#b1)"/>
<rect x="104.1" y="436.0" width="14.9" height="12" rx="3" fill="#7a7a7a" opacity="0.55" filter="url(#b2)"/>
<rect x="105.1" y="439.5" width="12.9" height="4.2" rx="1.5" fill="#4e4e4e" opacity="0.85" filter="url(#b1)"/>
<rect x="106.6" y="439.6" width="7.9" height="2" rx="1" fill="#3a3a3a" opacity="0.7" filter="url(#b1)"/>
<rect x="120.9" y="436.0" width="13.6" height="12" rx="3" fill="#7a7a7a" opacity="0.55" filter="url(#b2)"/>
<rect x="121.9" y="439.5" width="11.6" height="4.2" rx="1.5" fill="#4e4e4e" opacity="0.75" filter="url(#b1)"/>
<rect x="123.4" y="439.6" width="6.6" height="2" rx="1" fill="#3a3a3a" opacity="0.6" filter="url(#b1)"/>
<rect x="136.0" y="436.0" width="14.5" height="12" rx="3" fill="#7a7a7a" opacity="0.55" filter="url(#b2)"/>
<rect x="137.0" y="439.5" width="12.5" height="4.2" rx="1.5" fill="#4e4e4e" opacity="0.6" filter="url(#b1)"/>
<rect x="138.5" y="439.6" width="7.5" height="2" rx="1" fill="#3a3a3a" opacity="0.4" filter="url(#b1)"/>
<rect x="152.5" y="436.0" width="13.0" height="12" rx="3" fill="#7a7a7a" opacity="0.55" filter="url(#b2)"/>
<rect x="153.5" y="439.5" width="11.0" height="4.2" rx="1.5" fill="#4e4e4e" opacity="0.45" filter="url(#b1)"/>
<rect x="155.0" y="439.6" width="6.0" height="2" rx="1" fill="#3a3a3a" opacity="0.3" filter="url(#b1)"/>
<rect x="90.5" y="464.7" width="11.6" height="3.2" rx="1.2" fill="#141414" opacity="0.95" filter="url(#b1)"/>
<rect x="105.1" y="464.7" width="12.9" height="3.2" rx="1.2" fill="#141414" opacity="0.95" filter="url(#b1)"/>
<rect x="121.9" y="464.7" width="11.6" height="3.2" rx="1.2" fill="#141414" opacity="0.95" filter="url(#b1)"/>
<rect x="137.0" y="464.7" width="12.5" height="3.2" rx="1.2" fill="#141414" opacity="0.95" filter="url(#b1)"/>
<rect x="153.5" y="464.7" width="11.0" height="3.2" rx="1.2" fill="#141414" opacity="0.55" filter="url(#b1)"/>
<rect x="89.5" y="477.0" width="13.6" height="14" rx="3" fill="#a2a2a2" opacity="0.5" filter="url(#b2)"/>
<rect x="104.1" y="477.0" width="14.9" height="14" rx="3" fill="#a2a2a2" opacity="0.6" filter="url(#b2)"/>
<rect x="120.9" y="477.0" width="13.6" height="14" rx="3" fill="#a2a2a2" opacity="0.4" filter="url(#b2)"/>
<rect x="136.0" y="477.0" width="14.5" height="14" rx="3" fill="#a2a2a2" opacity="0.9" filter="url(#b2)"/>
<rect x="152.5" y="477.0" width="13.0" height="14" rx="3" fill="#a2a2a2" opacity="0.3" filter="url(#b2)"/>
<rect x="91.0" y="481.4" width="10.6" height="2.4" rx="1.2" fill="#1e1e1e" opacity="0.7" filter="url(#b1)"/>
<rect x="105.6" y="481.2" width="11.9" height="2.8" rx="1.2" fill="#1e1e1e" opacity="0.8" filter="url(#b1)"/>
<rect x="122.4" y="481.2" width="10.6" height="2.8" rx="1.2" fill="#1e1e1e" opacity="0.85" filter="url(#b1)"/>
<rect x="137.5" y="480.8" width="11.5" height="3.6" rx="1.2" fill="#1e1e1e" opacity="1" filter="url(#b1)"/>
<rect x="154.0" y="481.4" width="10.0" height="2.4" rx="1.2" fill="#1e1e1e" opacity="0.5" filter="url(#b1)"/>
<rect x="92.3" y="501.6" width="10.3" height="2.6" rx="1.2" fill="#1a1a1a" opacity="0.92" filter="url(#b1)"/>
<rect x="108.5" y="500.9" width="12.4" height="4" rx="1.2" fill="#1a1a1a" opacity="0.92" filter="url(#b1)"/>
<rect x="126.3" y="501.2" width="11.5" height="3.4" rx="1.2" fill="#1a1a1a" opacity="0.92" filter="url(#b1)"/>
<rect x="84.5" y="520.5" width="2.2" height="10.5" rx="1" fill="#3a3a3a" filter="url(#b1)"/>
<rect x="90.4" y="520.2" width="13.6" height="11.2" rx="3.2" fill="#3a3a3a" filter="url(#b1)"/>
<rect x="92.9" y="523.5" width="8.6" height="1.2" fill="#4a4a4a" opacity="0.7" filter="url(#b1)"/>
<rect x="106.8" y="520.2" width="13.6" height="11.2" rx="3.2" fill="#3a3a3a" filter="url(#b1)"/>
<rect x="109.3" y="523.5" width="8.6" height="1.2" fill="#4a4a4a" opacity="0.7" filter="url(#b1)"/>
<rect x="122.6" y="520.2" width="13.9" height="11.2" rx="3.2" fill="#3a3a3a" filter="url(#b1)"/>
<rect x="125.1" y="523.5" width="8.9" height="1.2" fill="#4a4a4a" opacity="0.7" filter="url(#b1)"/>
<rect x="138.1" y="520.2" width="14.4" height="11.2" rx="3.2" fill="#3a3a3a" filter="url(#b1)"/>
<rect x="140.6" y="523.5" width="9.4" height="1.2" fill="#4a4a4a" opacity="0.7" filter="url(#b1)"/>
<rect x="155" y="520.2" width="13.6" height="11.2" rx="3.2" fill="#3a3a3a" filter="url(#b1)"/>
<rect x="157.5" y="523.5" width="8.6" height="1.2" fill="#4a4a4a" opacity="0.7" filter="url(#b1)"/>
<text x="0" y="0" font-size="8.5" fill="#1a1a1a" transform="translate(91.5,543.9) rotate(40)">WT</text>
<text x="0" y="0" font-size="8.5" fill="#1a1a1a" transform="translate(110,543.7) rotate(40)">WT</text>
<text x="0" y="0" font-size="8.5" fill="#1a1a1a" transform="translate(125,543.7) rotate(40)">WT</text>
<text x="0" y="0" font-size="8.5" fill="#1a1a1a" transform="translate(141.2,542.7) rotate(40)">SR-BI<tspan font-size="5" dy="-3.2">-/-</tspan></text>
<text x="0" y="0" font-size="8.5" fill="#1a1a1a" transform="translate(161.9,542.7) rotate(40)">SR-BI<tspan font-size="5" dy="-3.2">-/-</tspan></text>
<text x="257.6" y="425.9" font-size="17" font-weight="bold" fill="#000" >E</text>
<text x="286.7" y="428.0" font-size="10" fill="#1a1a1a" >Median fluorescence intensity</text>
<line x1="293.5" y1="443.5" x2="389" y2="443.5" stroke="#222" stroke-width="1.1"/>
<line x1="293.5" y1="443.5" x2="293.5" y2="446" stroke="#222" stroke-width="1.0"/>
<line x1="341.3" y1="443.5" x2="341.3" y2="446" stroke="#222" stroke-width="1.0"/>
<line x1="389" y1="443.5" x2="389" y2="446" stroke="#222" stroke-width="1.0"/>
<text x="294.4" y="440" font-size="11" text-anchor="middle" fill="#1a1a1a" >0</text>
<text x="341.3" y="440" font-size="11" text-anchor="middle" fill="#1a1a1a" >50</text>
<text x="391.2" y="440" font-size="11" text-anchor="middle" fill="#1a1a1a" >100</text>
<rect x="294" y="449" width="66.8" height="8.4" fill="#000" stroke="#111" stroke-width="0.9"/>
<line x1="360.8" y1="453.2" x2="365.6" y2="453.2" stroke="#222" stroke-width="1.1"/>
<line x1="365.6" y1="451.5" x2="365.6" y2="455" stroke="#222" stroke-width="1.1"/>
<rect x="294" y="463.6" width="76.2" height="7.8" fill="#fff" stroke="#111" stroke-width="0.9"/>
<line x1="370.2" y1="467.5" x2="376.4" y2="467.5" stroke="#222" stroke-width="1.1"/>
<line x1="376.4" y1="465.8" x2="376.4" y2="469.3" stroke="#222" stroke-width="1.1"/>
<rect x="294" y="487.5" width="75.9" height="8.6" fill="#000" stroke="#111" stroke-width="0.9"/>
<line x1="369.9" y1="491.8" x2="377" y2="491.8" stroke="#222" stroke-width="1.1"/>
<line x1="377" y1="490" x2="377" y2="493.6" stroke="#222" stroke-width="1.1"/>
<rect x="294" y="502" width="75.9" height="8.3" fill="#fff" stroke="#111" stroke-width="0.9"/>
<line x1="369.9" y1="506.2" x2="376.5" y2="506.2" stroke="#222" stroke-width="1.1"/>
<line x1="376.5" y1="504.4" x2="376.5" y2="508" stroke="#222" stroke-width="1.1"/>
<text x="280.6" y="458.2" font-size="9.3" text-anchor="end" fill="#1a1a1a" >WT</text>
<text x="257.8" y="471.0" font-size="9.2" fill="#1a1a1a">SR-BI<tspan font-size="7.2" dy="-4.6" style="stroke-width:0.1px">-/-</tspan></text>
<text x="280.9" y="494.0" font-size="9.3" text-anchor="end" fill="#1a1a1a" >WT</text>
<text x="257.8" y="509.4" font-size="9.2" fill="#1a1a1a">SR-BI<tspan font-size="7.2" dy="-4.6" style="stroke-width:0.1px">-/-</tspan></text>
<text x="384.2" y="461.9" font-size="10.3" fill="#1a1a1a" >GPVI</text>
<text x="386.3" y="496" font-size="10.5" fill="#1a1a1a" >CD41/</text>
<text x="386.3" y="506.9" font-size="10.5" fill="#1a1a1a" >CD61</text>
<line x1="293.5" y1="517.1" x2="408.7" y2="517.1" stroke="#222" stroke-width="1.1"/>
<line x1="293.5" y1="517.1" x2="293.5" y2="514.6" stroke="#222" stroke-width="1.0"/>
<line x1="331.7" y1="517.1" x2="331.7" y2="514.6" stroke="#222" stroke-width="1.0"/>
<line x1="369.8" y1="517.1" x2="369.8" y2="514.6" stroke="#222" stroke-width="1.0"/>
<line x1="408.2" y1="517.1" x2="408.2" y2="514.6" stroke="#222" stroke-width="1.0"/>
<text x="294.8" y="530.6" font-size="11" text-anchor="middle" fill="#1a1a1a" >0</text>
<text x="331.5" y="530.6" font-size="11" text-anchor="middle" fill="#1a1a1a" >100</text>
<text x="372.3" y="530.6" font-size="11" text-anchor="middle" fill="#1a1a1a" >200</text>
<text x="409.2" y="530.6" font-size="11" text-anchor="middle" fill="#1a1a1a" >300</text>
<text x="289.5" y="541.9" font-size="10" fill="#1a1a1a" >Median fluorescence intensity</text></svg></body></html>
